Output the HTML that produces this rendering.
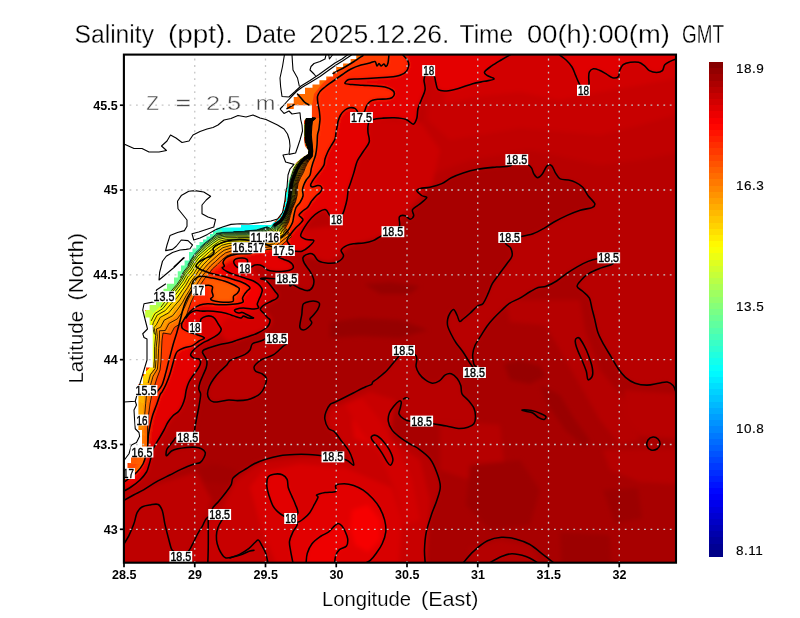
<!DOCTYPE html>
<html><head><meta charset="utf-8"><title>Salinity</title>
<style>
html,body{margin:0;padding:0;background:#fff;}
body{width:800px;height:618px;overflow:hidden;font-family:"Liberation Sans",sans-serif;}
svg{display:block}
text{font-family:"Liberation Sans",sans-serif;fill:#000}
.tk{font-size:12.5px;font-weight:bold}
.tt{font-size:25.4px;stroke:#fff;stroke-width:.3px}
.ax{font-size:21px;stroke:#fff;stroke-width:.2px}
.cb{font-size:13.5px;letter-spacing:.5px;stroke:#000;stroke-width:.15px}
.lb{font-size:12.4px;stroke:#000;stroke-width:.4px}
</style></head><body>
<svg width="800" height="618" viewBox="0 0 800 618" style="will-change:transform">
<defs><clipPath id="cp"><rect x="123.9" y="54.6" width="552.1" height="508.1"/></clipPath><filter id="bl" x="-10%" y="-10%" width="120%" height="120%"><feGaussianBlur stdDeviation="2.2"/></filter></defs>
<rect width="800" height="618" fill="#fff"/>
<g clip-path="url(#cp)">
<rect x="123.9" y="54.6" width="552.1" height="508.1" fill="#a80000"/>
<g filter="url(#bl)">
<path d="M108 40 L692 40 L692 392 L692 392 L673.1 385.6 L667.2 382 L658.8 383.2 L647 385.1 L635.1 383.2 L625.5 377.3 L618.4 369 L611.3 357.1 L604.1 345.2 L598.2 333.3 L594.7 319.1 L592 308.6 L589.4 298.1 L582.9 291.5 L577.1 286.3 L581.5 279.7 L589.4 273.2 L601.2 267.9 L613 263.5 L608.7 257.8 L597.3 258.7 L588.1 261.4 L577.6 266.6 L567.1 273.2 L556.6 281 L546.1 286.3 L538.2 287.6 L530.4 291.5 L519.9 298.1 L509.4 303.4 L501.2 310.7 L494.1 317.8 L487 326.2 L481 335.7 L475.1 345.2 L472.7 354.7 L473.9 364.2 L476.3 367.3 L474.5 372.5 L472.7 367.3 L469.1 361.8 L463.2 352.3 L456 342.8 L451.3 334.5 L447.7 326.2 L447.7 319 L450.1 313 L453.7 309.5 L457.2 315.5 L459.6 321.4 L463.2 319 L470.3 313 L477.4 306 L483.1 303.4 L488.4 292.9 L492.3 283.7 L498.9 274.5 L506.7 264 L512 256.1 L510.7 248.2 L505.4 243 L509.7 237.5 L521.2 236.4 L533 233.8 L543.5 228.6 L554 222 L567.1 215.4 L580.2 210.2 L592 207.6 L594.7 203.6 L588.1 195.7 L582.7 187.2 L575.6 182.4 L568.5 180 L560.2 178.9 L555.4 172.9 L551.8 165.8 L547.1 165.8 L542.3 174.1 L537.6 177.7 L534 174.1 L531.6 168.2 L528 164.6 L516.8 159.6 L510.7 165.8 L496.5 167 L477.4 169.3 L463.2 172.9 L451.3 177.7 L441.8 183.6 L429.9 187.2 L420.4 188.4 L416.8 190.7 L421.6 195.5 L426.7 197.8 L418.4 205 L412.5 209.7 L413.7 215.7 L410.1 219.2 L405.3 215.7 L399.4 216.9 L399.4 226.4 L392.9 231.7 L381.6 235.9 L373.2 240.6 L363.7 243 L354.2 243.7 L347.1 245.4 L341.1 250.2 L343.5 256.1 L337.6 262 L328 263.2 L318.5 260.9 L313.8 254.9 L309 253.7 L303.1 257.3 L304.3 263.2 L310.2 271.6 L313.8 279.9 L312.6 287 L307.8 290.6 L299.5 288.2 L292.4 284.6 L290 285.8 L286.8 278.8 L275.6 278.8 L270 278.5 L265 278.1 L260.6 278.8 L265 280 L268.1 282.5 L271.2 286.2 L275 291.2 L278.1 295.6 L276.2 298.8 L271.2 301.2 L265 304.4 L261.2 307.5 L260.6 310 L263.8 313.1 L267.5 317.5 L270 320 L268.8 325 L265 328.8 L258.8 332.5 L251.2 335.6 L243.8 338.1 L237.5 340 L230 342.5 L220 344.5 L210 347.5 L203.8 350 L202.5 352.5 L205 356.9 L206.9 361.2 L206.2 367.5 L203.1 375 L200 382.5 L198.8 388.8 L200.6 393.8 L200 400 L198.8 407.5 L196.9 417 L195.2 426 L194 432 L188 437.3 L176.5 437.5 L174 440 L170 445 L167 449 L166 454 L167 455.6 L171.5 451 L177.8 448.8 L186.5 447.5 L195.2 447.2 L201.5 448.8 L205.2 452.5 L204 457.5 L200.2 462.5 L192.7 464.5 L181 469.4 L169.8 475 L156.7 481.6 L143.6 489.8 L134 494.7 L108 500.4 L108 500.4Z" fill="#b80000"/>
<path d="M180.8 556.5 L188.6 551 L192.7 543.8 L197.6 534 L202.5 525.8 L207.4 517.6 L219.7 514.5 L212.3 509.4 L218.8 501.2 L225.4 493 L231.1 484.9 L232.8 478.4 L238.5 473.4 L246.6 468.5 L253.8 464 L265.7 459.2 L280 455.7 L294.2 454.5 L308.5 454.5 L321.6 455.7 L332.9 456.9 L344.2 459.2 L348.9 461.6 L353.7 465.2 L352.5 459.2 L348.9 450.9 L341.8 441.4 L334.6 431.9 L328.4 428.4 L324.8 419 L326 411.8 L330 404.6 L334.8 402.3 L341.9 398.7 L353.8 392.7 L365.7 386.8 L371.6 384.4 L372.8 382 L377.6 378.5 L387.1 370.2 L394.2 361.8 L399 355.9 L403.6 350.5 L415 354.7 L416.8 359.5 L416.1 366.6 L419.2 373.7 L425.1 379.7 L432.3 383.2 L439.4 380.9 L445.3 374.9 L451.3 373.7 L457.2 378.5 L460.8 385.6 L462 393.9 L467.9 399.9 L473.9 408.2 L475.5 416.5 L473.9 423.7 L467.9 427.2 L458.4 428.4 L446.5 426 L433 423.7 L421.7 421.1 L410.4 421.3 L403.7 418.9 L399 414.1 L400.2 408.2 L401.3 402.3 L399 401.1 L394.2 405.8 L389.4 413 L388.3 421.3 L391.8 429.6 L399 436.7 L406.1 441.5 L412 445.1 L417.5 448 L429.8 458.5 L436.8 472.5 L440.3 486.5 L436.8 500.5 L431.5 514.5 L426.3 532 L424.5 549.5 L425.2 578 L425.2 578 L180 578Z" fill="#b80000"/>
<path d="M330 410 L370 392 L395 400 L390 440 L420 460 L430 500 L425 578 L185 578 L200 530 L222 510 L235 482 L262 462 L320 456 L350 462 L340 440 L327 425Z" fill="#c80000"/>
<path d="M265.3 339 L260 341.2 L252.5 343.8 L250 350 L245 354.4 L237.5 357.5 L230 360.6 L226.2 365.6 L220 371.2 L213.8 378.8 L209.4 386.2 L207.5 393.8 L209.4 399.4 L213.8 401.9 L221.2 401.2 L228.8 400 L237.5 400.6 L247.5 399.8 L255 396.9 L260 393.8 L264 388 L266.5 378.5 L261.8 373.7 L255.8 371.3 L254 367.5 L255.8 364.2 L261.8 359.5 L273.7 354.7 L283 346.4 L286.7 344Z" fill="#bb0000"/>
<path d="M425 40 L692 40 L692 150 L640 160 L600 165 L530 150 L470 160 L430 175 L420 150Z" fill="#c00000"/>
<path d="M430 40 L692 40 L692 110 L640 125 L600 135 L520 128 L450 140 L428 120Z" fill="#c80000"/>
<path d="M440 40 L692 40 L692 75 L640 85 L600 92 L560 100 L520 92 L480 96 L445 104Z" fill="#d20000"/>
<path d="M250 268 L262 279 L266 280.5 L269.8 283 L273.5 288 L277.2 293 L278.5 295.5 L276 299.2 L271 302.4 L264.8 305.5 L260 308.6 L263.5 311.1 L268.5 315.5 L271.6 319.2 L271.6 323 L268.5 326.8 L265 329 L258.8 332.5 L243.8 338.1 L230 342.5 L221 336 L222 329 L218 323 L215 318 L205 313 L215 300 L240 290Z" fill="#d40000"/>
<path d="M360 118 L420 122 L440 150 L432 185 L405 212 L395 232 L350 246 L330 262 L305 256 L300 230 L340 225 L348 190 L355 160Z" fill="#cc0000"/>
<path d="M108 40 L510.7 40 L510.7 40 L501.2 60 L491.7 65.9 L484.6 71.8 L487 75.4 L494.1 79 L484.6 81.3 L472.7 83.7 L458.4 88.5 L446.5 90.9 L438.2 89.7 L435.8 82.5 L434.2 75.9 L428.7 70.6 L425.1 75.4 L424 80.2 L425.1 89.7 L421.6 99.2 L418 108.7 L416.8 118.2 L413.2 124.2 L406.1 119.4 L394.2 117.7 L382.3 118.2 L372.8 119.4 L369.5 121 L368 126 L368 132.5 L369.2 142 L363.3 151.5 L357.3 161 L353.8 172.9 L350.5 183 L348.3 189.5 L347.1 199 L344.7 208.5 L342.3 214.5 L336.4 219.8 L330 215.7 L325.7 209.7 L318.5 212.1 L311.4 218 L304.3 227.6 L300.7 235.9 L306.6 239.5 L313.8 240.6 L309 246.6 L301.9 251.3 L294.8 251.3 L285 254 L280 256.2 L278.8 257.5 L283.8 259.4 L288.8 261.2 L292.5 264.4 L293.1 268.1 L288.8 270.6 L281.2 271.5 L273.8 271.2 L267.5 270 L263.8 267 L260 265 L255 265 L251.2 267 L247.5 279.4 L255 282.5 L260 285.6 L262.5 288.8 L261.9 293.1 L260 297.5 L258.8 302.5 L258 308 L250 311 L240 314 L230 316 L222 322 L221.2 329.4 L218.8 333.8 L214.4 336.9 L208.8 340 L202.5 343.1 L196.2 347.5 L192.5 351.2 L190.6 355 L193.8 358.1 L198.8 358.8 L200.6 361.9 L199.4 366.2 L196.2 371.2 L192.5 376.2 L188.8 382.5 L186.2 390 L185 397.5 L182.5 405 L178.8 411.2 L172.8 416 L167.8 422.5 L164 430 L159 438.8 L155.2 445 L152.8 450 L151 457.5 L149 465 L146.5 472 L140 480 L131 487 L108 491 L108 491Z" fill="#e40000"/>
<path d="M559 40 L559 40 L566.1 60 L572 67 L575.6 75.4 L579.2 83.7 L583.5 90.3 L588.7 85 L588.7 77.8 L589.4 71.8 L593.4 68.7 L599.4 70.2 L606.5 74.2 L612.5 77.8 L618.4 76.6 L619.6 70.6 L623.2 64.7 L630.3 62.3 L638.6 62.3 L644.6 65.9 L649.3 70.6 L656.5 72.5 L662.4 70.6 L664.8 64.7 L670.7 61.1 L692 59 L692 40Z" fill="#e00000"/>
<path d="M250 487 L262 472 L300 464 L345 468 L392 488 L402 520 L398 578 L282 578 L262 530Z" fill="#d80000"/>
<path d="M290.7 518.5 L297.8 513.2 L295.4 504.4 L291.8 496.1 L288.3 487.8 L287.1 479.4 L282.3 474.7 L274 474.2 L268 477.1 L266.9 486.6 L269.2 496.1 L272.8 505.6 L277.6 511.6 L284.2 516.3Z" fill="#e20000"/>
<path d="M293 578 L290.6 550.8 L289.5 541.3 L293 531.8 L297.3 523.9 L290.7 518.5 L297.3 522.3 L303.7 518.7 L309.7 512.7 L314.4 504.4 L318 497.3 L316.8 494.9 L325.1 492.5 L335.8 491.3 L335.8 485.4 L344.2 483.7 L353.7 485.4 L363.2 490.2 L372.7 498.5 L379.8 508 L384.6 519.9 L385.8 531.8 L382.2 543.7 L376.3 553.2 L370.3 560.3 L365.6 578 L293 578Z" fill="#e20000"/>
<path d="M306.1 578 L307.3 553.2 L312 543.7 L320.4 536.5 L328.7 531.8 L334.6 525.8 L338.2 523.5 L341.8 525.8 L345.3 531.8 L347.7 538.9 L346.5 546 L339.4 549.6 L335.8 555.6 L334.6 578 L306 578Z" fill="#ee0000"/>
<path d="M352 510 L368 505 L380 520 L380 540 L368 552 L355 545 L350 528Z" fill="#f60000"/>
<path d="M352 420 L366 414 L378 424 L380 436 L368 444 L354 438Z" fill="#dc0000"/>
<path d="M200 316 L214 318 L219 328 L212 336 L200 338Z" fill="#d80000"/>
<path d="M252 252.7 L250 253.5 L242.5 253.8 L235 254.4 L228.8 256.2 L225 258.8 L223 262.5 L224.4 266.2 L222.2 268 L227.2 271.8 L233.5 274.2 L241 276.8 L248.5 279.2 L254.8 281.8 L259.8 285.5 L262.2 289.9 L261 294.9 L259.1 299.2 L257.2 304.2 L258.5 308 L252 309 L243.5 308 L236 309.2 L234.8 311.1 L238.5 313 L242.2 312.4 L246 314.2 L251 316.8 L253.5 318 L248.5 318 L243.5 316.1 L241 318 L236 316.8 L231 314.9 L224.8 313 L217.2 311.8 L200 300 L200 272Z" fill="#f40000"/>
<path d="M108 40 L402.5 40 L402.5 40 L407.5 60.2 L408.8 65.2 L406.2 71.5 L400 75.2 L390 77.1 L378.8 77.8 L367.5 78.4 L357.5 79 L348.8 79.6 L345 83.4 L352.5 84.6 L362.5 85.2 L375 85.9 L385 87.1 L392.5 90.2 L394.4 94 L391.9 97.8 L386.2 99 L378.8 99.2 L372.5 100.2 L368.8 102.8 L366.2 106.5 L365 110.2 L363.8 112.8 L357.5 111.5 L355 108.4 L350 107.8 L345 110 L340.6 115 L338 121.5 L337.5 125 L336 132.5 L335 139 L331 146 L327.5 152.5 L325 159 L324 165 L320 171 L316 176 L312.5 181 L310.6 185 L312.5 187 L317.5 185.6 L320.6 186 L322 189 L320 192.5 L316 196 L312.5 200 L311 202 L307.5 207.5 L302.5 211.2 L299 215 L301.2 217.5 L303 220 L300 223.8 L295 228.8 L290 235 L287 240 L288.8 243.8 L291 246.5 L275 248 L262 243 L250 240.5 L240 239.5 L232.5 240 L225 241.5 L219 244 L215 246 L213 249 L214 252.5 L211 256 L205 258.5 L199 262 L196 266 L200 269.4 L200 269.4 L205 271.2 L212.5 273.8 L220 275.6 L227.5 277.5 L235 280 L242.5 282.5 L248.1 285.6 L250 288.1 L247.5 290.6 L244.4 294.4 L242.5 298.1 L243.1 301.9 L237.5 303.8 L230 304.4 L222.5 304.8 L215 304.4 L207.5 303.8 L200 305 L193 309 L187 315 L183 321 L181.5 325 L182.8 328.8 L189 332 L197.8 335 L204.4 338 L199 341 L192.5 345.6 L183.8 348 L177.5 351.2 L175 356.2 L172.5 365 L170 373.8 L166.2 383.8 L162.5 391.2 L160 395 L156.5 405 L152.8 415 L150.2 425 L148.4 435 L147.8 445 L146 455 L143 464 L137 472 L130 478 L108 482 L108 482Z" fill="#ff2600"/>
<path d="M108 40 L389 40 L389 40 L388 63 L386 66.5 L384 64 L381 66 L379 63.5 L377 66 L375 61.5 L370 63 L361 65 L351 69 L342.5 74.5 L332.5 81.5 L325 87 L320 91.5 L317.5 96.5 L318 104 L319.4 111.5 L320 119 L319.4 125 L318.8 130 L317.5 135 L317 145 L315.6 155 L313 162.5 L311.2 168.8 L310 175 L306.2 180 L303.8 185 L302.5 190 L303 196 L300 202.5 L296 207.5 L294 215 L292.5 222.5 L289 229 L285 234 L281 237.5 L275 248 L262 250 L250 253 L240 256 L228 260 L220 266 L212 271 L205 275 L199 278 L195 281 L192 284 L192 290 L189 295 L185.2 302.5 L182.8 310 L180.2 320 L177 332 L173 345 L169 360 L166 372 L162 385 L157 392 L152 410 L149 430 L147 447 L140 462 L131 470 L108 475Z" fill="#ff3e00"/>
<path d="M204.4 285.6 L208.8 285.2 L212.5 286.9 L211.9 291.2 L213.1 296.2 L210.6 298.8 L212.5 300.6 L220 301.9 L227.5 302.2 L233.1 301.2 L233.5 296.2 L237.5 293.1 L239.4 288.8 L236.2 286.2 L231.2 283.8 L225 281.2 L218.8 279.4 L212.5 278.1 L206.2 276.9 L200 276.2Z" fill="#ff5c00"/>
<path d="M330 322 L360 318 L400 320 L428 330 L400 338 L360 336 L330 338Z" fill="#960000"/>
<path d="M504 364 L520 360 L540 366 L546 376 L530 384 L510 380Z" fill="#960000"/>
<path d="M364 284 L390 282 L420 286 L410 294 L380 294Z" fill="#960000"/>
<path d="M540 385 L560 395 L575 420 L590 440 L585 448 L565 430 L548 405Z" fill="#9a0000"/>
<path d="M197 468 L215 464 L238 470 L230 484 L205 482Z" fill="#a20000"/>
<path d="M505 300 L580 300 L585 330 L600 370 L625 400 L640 440 L620 445 L600 420 L580 385 L560 350 L545 325 L510 322Z" fill="#b60000"/>
<path d="M624 390 L692 395 L692 440 L640 436 L626 415Z" fill="#b80000"/>
<path d="M603 450 L692 448 L692 485 L640 482 L610 470Z" fill="#b60000"/>
<path d="M440 420 L500 425 L505 470 L470 480 L440 470Z" fill="#b60000"/>
<path d="M470 465 L520 460 L540 490 L530 525 L490 530 L466 505Z" fill="#9c0000"/>
<path d="M603 490 L638 488 L642 518 L615 524Z" fill="#9c0000"/>
<path d="M560 532 L610 535 L612 578 L562 578Z" fill="#9c0000"/>
<path d="M470 548 L500 540 L530 546 L548 578 L466 578Z" fill="#b40000"/>
<path d="M108 503 L160 483 L196 472 L212 500 L205 520 L190 548 L180 578 L108 578Z" fill="#be0000"/>
<path d="M345 405 L362 398 L380 420 L398 450 L412 480 L420 520 L405 525 L395 490 L380 455 L360 430Z" fill="#d20000"/>
</g>
<path d="M286 110 L286 100 L352 52 L363 55.5 L354 61.5 L345 67 L337.5 71 L333 73.5 L322 84 L314 94 L312 105.3 L294 105.3 L294 110Z" fill="#ff6a00"/>
<g shape-rendering="crispEdges">
<path d="M311.9 118.0 L313.0 118.0 L307.4 119.1 L305.4 118.2Z" fill="#f5ff0a"/><path d="M312.9 118.0 L313.9 118.0 L309.1 119.8 L307.1 119.0Z" fill="#ffda00"/><path d="M313.8 118.0 L314.9 118.0 L310.9 120.5 L308.8 119.7Z" fill="#ffaa00"/><path d="M314.7 118.0 L315.8 118.0 L312.6 121.2 L310.6 120.4Z" fill="#ff7b00"/><path d="M315.7 118.0 L316.8 118.0 L314.3 121.9 L312.3 121.1Z" fill="#ff6200"/><path d="M316.6 118.0 L317.7 118.0 L316.1 122.6 L314.0 121.8Z" fill="#ff6000"/><path d="M317.6 118.0 L318.6 118.0 L317.8 123.3 L315.8 122.5Z" fill="#ff5d00"/><path d="M318.5 118.0 L319.6 118.0 L319.5 124.1 L317.5 123.2Z" fill="#ff5b00"/><path d="M305.4 118.2 L307.4 119.1 L306.5 125.4 L304.4 125.0Z" fill="#f5ff0a"/><path d="M307.1 119.0 L309.1 119.8 L308.3 125.8 L306.2 125.3Z" fill="#ffda00"/><path d="M308.8 119.7 L310.9 120.5 L310.1 126.2 L308.0 125.7Z" fill="#ffaa00"/><path d="M310.6 120.4 L312.6 121.2 L311.9 126.5 L309.8 126.1Z" fill="#ff7b00"/><path d="M312.3 121.1 L314.3 121.9 L313.7 126.9 L311.6 126.5Z" fill="#ff6200"/><path d="M314.0 121.8 L316.1 122.6 L315.5 127.3 L313.4 126.8Z" fill="#ff6000"/><path d="M315.8 122.5 L317.8 123.3 L317.3 127.7 L315.2 127.2Z" fill="#ff5d00"/><path d="M317.5 123.2 L319.5 124.1 L319.1 128.0 L317.0 127.6Z" fill="#ff5b00"/><path d="M304.4 125.0 L306.5 125.4 L306.3 135.0 L304.4 135.0Z" fill="#f5ff0a"/><path d="M306.2 125.3 L308.3 125.8 L307.9 135.0 L306.0 135.0Z" fill="#ffdb00"/><path d="M308.0 125.7 L310.1 126.2 L309.5 135.0 L307.6 135.0Z" fill="#ffad00"/><path d="M309.8 126.1 L311.9 126.5 L311.1 135.0 L309.2 135.0Z" fill="#ff7e00"/><path d="M311.6 126.5 L313.7 126.9 L312.8 135.0 L310.9 135.0Z" fill="#ff6200"/><path d="M313.4 126.8 L315.5 127.3 L314.4 135.0 L312.5 135.0Z" fill="#ff6000"/><path d="M315.2 127.2 L317.3 127.7 L316.0 135.0 L314.1 135.0Z" fill="#ff5e00"/><path d="M317.0 127.6 L319.1 128.0 L317.6 135.0 L315.7 135.0Z" fill="#ff5b00"/><path d="M304.4 135.0 L306.3 135.0 L306.6 143.3 L304.9 143.0Z" fill="#f3ff0c"/><path d="M306.0 135.0 L307.9 135.0 L308.1 143.5 L306.4 143.2Z" fill="#ffe100"/><path d="M307.6 135.0 L309.5 135.0 L309.6 143.8 L307.9 143.5Z" fill="#ffb700"/><path d="M309.2 135.0 L311.1 135.0 L311.1 144.0 L309.4 143.7Z" fill="#ff8d00"/><path d="M310.9 135.0 L312.8 135.0 L312.6 144.3 L310.9 144.0Z" fill="#ff6300"/><path d="M312.5 135.0 L314.4 135.0 L314.1 144.5 L312.4 144.2Z" fill="#ff6100"/><path d="M314.1 135.0 L316.0 135.0 L315.6 144.8 L313.9 144.5Z" fill="#ff5e00"/><path d="M315.7 135.0 L317.6 135.0 L317.1 145.0 L315.4 144.7Z" fill="#ff5b00"/><path d="M304.9 143.0 L306.6 143.3 L309.1 150.3 L307.9 150.0Z" fill="#f1ff0e"/><path d="M306.4 143.2 L308.1 143.5 L310.1 150.5 L308.9 150.2Z" fill="#ffe500"/><path d="M307.9 143.5 L309.6 143.8 L311.1 150.8 L309.9 150.5Z" fill="#ffbe00"/><path d="M309.4 143.7 L311.1 144.0 L312.1 151.0 L310.9 150.7Z" fill="#ff9700"/><path d="M310.9 144.0 L312.6 144.3 L313.1 151.3 L311.9 151.0Z" fill="#ff6f00"/><path d="M312.4 144.2 L314.1 144.5 L314.1 151.5 L312.9 151.2Z" fill="#ff6100"/><path d="M313.9 144.5 L315.6 144.8 L315.1 151.8 L313.9 151.5Z" fill="#ff5e00"/><path d="M315.4 144.7 L317.1 145.0 L316.1 152.0 L314.9 151.7Z" fill="#ff5b00"/><path d="M307.9 150.0 L309.1 150.3 L308.9 154.5 L307.9 154.0Z" fill="#f1ff0e"/><path d="M308.9 150.2 L310.1 150.5 L309.8 155.0 L308.8 154.5Z" fill="#ffe500"/><path d="M309.9 150.5 L311.1 150.8 L310.7 155.5 L309.7 155.0Z" fill="#ffbe00"/><path d="M310.9 150.7 L312.1 151.0 L311.6 156.0 L310.6 155.5Z" fill="#ff9700"/><path d="M311.9 151.0 L313.1 151.3 L312.4 156.5 L311.4 156.0Z" fill="#ff6f00"/><path d="M312.9 151.2 L314.1 151.5 L313.3 157.0 L312.3 156.5Z" fill="#ff6100"/><path d="M313.9 151.5 L315.1 151.8 L314.2 157.5 L313.2 157.0Z" fill="#ff5e00"/><path d="M314.9 151.7 L316.1 152.0 L315.1 158.0 L314.1 157.5Z" fill="#ff5b00"/><path d="M307.9 154.0 L308.9 154.5 L304.4 157.7 L302.9 156.9Z" fill="#f1ff0e"/><path d="M308.8 154.5 L309.8 155.0 L305.7 158.3 L304.2 157.6Z" fill="#ffe500"/><path d="M309.7 155.0 L310.7 155.5 L307.0 158.9 L305.5 158.2Z" fill="#ffbe00"/><path d="M310.6 155.5 L311.6 156.0 L308.4 159.6 L306.8 158.8Z" fill="#ff9700"/><path d="M311.4 156.0 L312.4 156.5 L309.7 160.2 L308.1 159.4Z" fill="#ff6f00"/><path d="M312.3 156.5 L313.3 157.0 L311.0 160.8 L309.5 160.1Z" fill="#ff6100"/><path d="M313.2 157.0 L314.2 157.5 L312.3 161.4 L310.8 160.7Z" fill="#ff5e00"/><path d="M314.1 157.5 L315.1 158.0 L313.6 162.1 L312.1 161.3Z" fill="#ff5b00"/><path d="M302.9 156.9 L304.4 157.7 L300.8 160.8 L298.9 159.9Z" fill="#f1ff0e"/><path d="M304.2 157.6 L305.7 158.3 L302.4 161.6 L300.5 160.7Z" fill="#ffe600"/><path d="M305.5 158.2 L307.0 158.9 L304.0 162.3 L302.1 161.4Z" fill="#ffc000"/><path d="M306.8 158.8 L308.4 159.6 L305.6 163.1 L303.7 162.2Z" fill="#ff9900"/><path d="M308.1 159.4 L309.7 160.2 L307.3 163.8 L305.4 162.9Z" fill="#ff7200"/><path d="M309.5 160.1 L311.0 160.8 L308.9 164.6 L307.0 163.7Z" fill="#ff6100"/><path d="M310.8 160.7 L312.3 161.4 L310.5 165.3 L308.6 164.4Z" fill="#ff5e00"/><path d="M312.1 161.3 L313.6 162.1 L312.1 166.1 L310.2 165.2Z" fill="#ff5b00"/><path d="M298.9 159.9 L300.8 160.8 L298.0 164.4 L295.9 163.4Z" fill="#f1ff0e"/><path d="M300.5 160.7 L302.4 161.6 L299.9 165.2 L297.7 164.2Z" fill="#ffe700"/><path d="M302.1 161.4 L304.0 162.3 L301.8 166.0 L299.6 165.1Z" fill="#ffc100"/><path d="M303.7 162.2 L305.6 163.1 L303.6 166.8 L301.5 165.9Z" fill="#ff9b00"/><path d="M305.4 162.9 L307.3 163.8 L305.5 167.6 L303.4 166.7Z" fill="#ff7500"/><path d="M307.0 163.7 L308.9 164.6 L307.4 168.4 L305.2 167.5Z" fill="#ff6200"/><path d="M308.6 164.4 L310.5 165.3 L309.3 169.3 L307.1 168.3Z" fill="#ff5f00"/><path d="M310.2 165.2 L312.1 166.1 L311.1 170.1 L309.0 169.1Z" fill="#ff5b00"/><path d="M295.9 163.4 L298.0 164.4 L295.3 168.9 L292.8 167.9Z" fill="#dbff24"/><path d="M297.7 164.2 L299.9 165.2 L297.4 169.8 L295.0 168.8Z" fill="#fff800"/><path d="M299.6 165.1 L301.8 166.0 L299.5 170.7 L297.1 169.7Z" fill="#ffcd00"/><path d="M301.5 165.9 L303.6 166.8 L301.7 171.6 L299.2 170.6Z" fill="#ffa200"/><path d="M303.4 166.7 L305.5 167.6 L303.8 172.4 L301.3 171.4Z" fill="#ff7700"/><path d="M305.2 167.5 L307.4 168.4 L305.9 173.3 L303.5 172.3Z" fill="#ff6200"/><path d="M307.1 168.3 L309.3 169.3 L308.0 174.2 L305.6 173.2Z" fill="#ff5f00"/><path d="M309.0 169.1 L311.1 170.1 L310.2 175.1 L307.7 174.1Z" fill="#ff5b00"/><path d="M292.8 167.9 L295.3 168.9 L293.1 174.8 L290.8 173.9Z" fill="#b1ff4e"/><path d="M295.0 168.8 L297.4 169.8 L295.0 175.6 L292.8 174.7Z" fill="#e5ff1a"/><path d="M297.1 169.7 L299.5 170.7 L296.9 176.3 L294.7 175.4Z" fill="#ffe400"/><path d="M299.2 170.6 L301.7 171.6 L298.8 177.1 L296.6 176.2Z" fill="#ffb000"/><path d="M301.3 171.4 L303.8 172.4 L300.7 177.8 L298.5 176.9Z" fill="#ff7b00"/><path d="M303.5 172.3 L305.9 173.3 L302.6 178.6 L300.4 177.7Z" fill="#ff6200"/><path d="M305.6 173.2 L308.0 174.2 L304.5 179.3 L302.3 178.4Z" fill="#ff5f00"/><path d="M307.7 174.1 L310.2 175.1 L306.4 180.1 L304.2 179.2Z" fill="#ff5b00"/><path d="M290.8 173.9 L293.1 174.8 L291.0 180.7 L288.9 179.9Z" fill="#80ff7f"/><path d="M292.8 174.7 L295.0 175.6 L292.8 181.3 L290.7 180.6Z" fill="#bfff40"/><path d="M294.7 175.4 L296.9 176.3 L294.7 181.9 L292.5 181.2Z" fill="#feff01"/><path d="M296.6 176.2 L298.8 177.1 L296.5 182.6 L294.4 181.8Z" fill="#ffc000"/><path d="M298.5 176.9 L300.7 177.8 L298.4 183.2 L296.2 182.4Z" fill="#ff8100"/><path d="M300.4 177.7 L302.6 178.6 L300.2 183.8 L298.1 183.1Z" fill="#ff6200"/><path d="M302.3 178.4 L304.5 179.3 L302.1 184.4 L299.9 183.7Z" fill="#ff5f00"/><path d="M304.2 179.2 L306.4 180.1 L303.9 185.1 L301.8 184.3Z" fill="#ff5b00"/><path d="M288.9 179.9 L291.0 180.7 L289.5 187.4 L287.4 187.0Z" fill="#43ffbc"/><path d="M290.7 180.6 L292.8 181.3 L291.4 187.8 L289.2 187.3Z" fill="#8eff71"/><path d="M292.5 181.2 L294.7 181.9 L293.3 188.2 L291.1 187.7Z" fill="#d9ff26"/><path d="M294.4 181.8 L296.5 182.6 L295.1 188.5 L293.0 188.1Z" fill="#ffda00"/><path d="M296.2 182.4 L298.4 183.2 L297.0 188.9 L294.9 188.5Z" fill="#ff8f00"/><path d="M298.1 183.1 L300.2 183.8 L298.9 189.3 L296.7 188.8Z" fill="#ff6200"/><path d="M299.9 183.7 L302.1 184.4 L300.8 189.7 L298.6 189.2Z" fill="#ff5f00"/><path d="M301.8 184.3 L303.9 185.1 L302.6 190.0 L300.5 189.6Z" fill="#ff5c00"/><path d="M287.4 187.0 L289.5 187.4 L288.7 193.4 L286.3 193.0Z" fill="#20ffdf"/><path d="M289.2 187.3 L291.4 187.8 L290.8 193.8 L288.4 193.3Z" fill="#6dff92"/><path d="M291.1 187.7 L293.3 188.2 L292.9 194.2 L290.5 193.7Z" fill="#bfff40"/><path d="M293.0 188.1 L295.1 188.5 L294.9 194.5 L292.5 194.1Z" fill="#ffee00"/><path d="M294.9 188.5 L297.0 188.9 L297.0 194.9 L294.6 194.5Z" fill="#ff9c00"/><path d="M296.7 188.8 L298.9 189.3 L299.0 195.3 L296.6 194.8Z" fill="#ff6200"/><path d="M298.6 189.2 L300.8 189.7 L301.1 195.7 L298.7 195.2Z" fill="#ff5f00"/><path d="M300.5 189.6 L302.6 190.0 L303.2 196.0 L300.8 195.6Z" fill="#ff5c00"/><path d="M286.3 193.0 L288.7 193.4 L287.9 200.3 L285.9 200.0Z" fill="#17ffe8"/><path d="M288.4 193.3 L290.8 193.8 L289.6 200.7 L287.6 200.3Z" fill="#59ffa6"/><path d="M290.5 193.7 L292.9 194.2 L291.4 201.0 L289.4 200.6Z" fill="#adff52"/><path d="M292.5 194.1 L294.9 194.5 L293.1 201.3 L291.1 200.9Z" fill="#fffd00"/><path d="M294.6 194.5 L297.0 194.9 L294.9 201.6 L292.9 201.2Z" fill="#ffa800"/><path d="M296.6 194.8 L299.0 195.3 L296.6 201.9 L294.6 201.5Z" fill="#ff6300"/><path d="M298.7 195.2 L301.1 195.7 L298.4 202.2 L296.4 201.8Z" fill="#ff5f00"/><path d="M300.8 195.6 L303.2 196.0 L300.1 202.5 L298.1 202.2Z" fill="#ff5c00"/><path d="M285.9 200.0 L287.9 200.3 L285.6 209.7 L283.9 210.0Z" fill="#0efff1"/><path d="M287.6 200.3 L289.6 200.7 L287.1 209.5 L285.4 209.8Z" fill="#48ffb7"/><path d="M289.4 200.6 L291.4 201.0 L288.6 209.2 L286.9 209.5Z" fill="#9dff62"/><path d="M291.1 200.9 L293.1 201.3 L290.1 209.0 L288.4 209.3Z" fill="#f1ff0e"/><path d="M292.9 201.2 L294.9 201.6 L291.6 208.7 L289.9 209.0Z" fill="#ffb900"/><path d="M294.6 201.5 L296.6 201.9 L293.1 208.5 L291.4 208.8Z" fill="#ff6500"/><path d="M296.4 201.8 L298.4 202.2 L294.6 208.2 L292.9 208.5Z" fill="#ff6000"/><path d="M298.1 202.2 L300.1 202.5 L296.1 208.0 L294.4 208.3Z" fill="#ff5c00"/><path d="M283.9 210.0 L285.6 209.7 L282.8 216.3 L280.9 216.5Z" fill="#0efff1"/><path d="M285.4 209.8 L287.1 209.5 L284.4 216.1 L282.5 216.3Z" fill="#47ffb8"/><path d="M286.9 209.5 L288.6 209.2 L286.0 215.9 L284.1 216.1Z" fill="#98ff67"/><path d="M288.4 209.3 L290.1 209.0 L287.6 215.7 L285.7 216.0Z" fill="#e9ff16"/><path d="M289.9 209.0 L291.6 208.7 L289.3 215.5 L287.4 215.8Z" fill="#ffc300"/><path d="M291.4 208.8 L293.1 208.5 L290.9 215.4 L289.0 215.6Z" fill="#ff7200"/><path d="M292.9 208.5 L294.6 208.2 L292.5 215.2 L290.6 215.4Z" fill="#ff6000"/><path d="M294.4 208.3 L296.1 208.0 L294.1 215.0 L292.2 215.2Z" fill="#ff5c00"/><path d="M280.9 216.5 L282.8 216.3 L279.1 221.2 L276.8 221.0Z" fill="#09fff6"/><path d="M282.5 216.3 L284.4 216.1 L281.0 221.4 L278.8 221.2Z" fill="#3bffc4"/><path d="M284.1 216.1 L286.0 215.9 L283.0 221.6 L280.7 221.4Z" fill="#8bff74"/><path d="M285.7 216.0 L287.6 215.7 L284.9 221.8 L282.7 221.5Z" fill="#dbff24"/><path d="M287.4 215.8 L289.3 215.5 L286.8 222.0 L284.6 221.7Z" fill="#ffd200"/><path d="M289.0 215.6 L290.9 215.4 L288.8 222.1 L286.5 221.9Z" fill="#ff8200"/><path d="M290.6 215.4 L292.5 215.2 L290.7 222.3 L288.5 222.1Z" fill="#ff6100"/><path d="M292.2 215.2 L294.1 215.0 L292.7 222.5 L290.4 222.3Z" fill="#ff5c00"/><path d="M276.8 221.0 L279.1 221.2 L273.4 224.2 L270.8 223.4Z" fill="#04fffb"/><path d="M278.8 221.2 L281.0 221.4 L275.7 224.9 L273.1 224.1Z" fill="#2bffd4"/><path d="M280.7 221.4 L283.0 221.6 L277.9 225.6 L275.3 224.8Z" fill="#79ff86"/><path d="M282.7 221.5 L284.9 221.8 L280.2 226.3 L277.6 225.5Z" fill="#c8ff37"/><path d="M284.6 221.7 L286.8 222.0 L282.4 227.0 L279.8 226.2Z" fill="#ffe800"/><path d="M286.5 221.9 L288.8 222.1 L284.7 227.7 L282.1 226.9Z" fill="#ff9a00"/><path d="M288.5 222.1 L290.7 222.3 L286.9 228.4 L284.3 227.6Z" fill="#ff6200"/><path d="M290.4 222.3 L292.7 222.5 L289.2 229.1 L286.6 228.3Z" fill="#ff5d00"/><path d="M270.8 223.4 L273.4 224.2 L266.0 226.1 L261.7 224.4Z" fill="#04fffb"/><path d="M273.1 224.1 L275.7 224.9 L269.7 227.7 L265.4 225.9Z" fill="#1cffe3"/><path d="M275.3 224.8 L277.9 225.6 L273.3 229.2 L269.1 227.4Z" fill="#5fffa0"/><path d="M277.6 225.5 L280.2 226.3 L277.0 230.7 L272.7 228.9Z" fill="#a2ff5d"/><path d="M279.8 226.2 L282.4 227.0 L280.7 232.2 L276.4 230.5Z" fill="#e5ff1a"/><path d="M282.1 226.9 L284.7 227.7 L284.4 233.7 L280.1 232.0Z" fill="#ffd600"/><path d="M284.3 227.6 L286.9 228.4 L288.1 235.3 L283.8 233.5Z" fill="#ff9200"/><path d="M286.6 228.3 L289.2 229.1 L291.7 236.8 L287.5 235.0Z" fill="#ff6000"/><path d="M261.7 224.4 L266.0 226.1 L253.8 228.1 L249.7 224.8Z" fill="#04fffb"/><path d="M265.4 225.9 L269.7 227.7 L257.3 231.0 L253.2 227.6Z" fill="#16ffe9"/><path d="M269.1 227.4 L273.3 229.2 L260.8 233.9 L256.8 230.5Z" fill="#8dff72"/><path d="M272.7 228.9 L277.0 230.7 L264.4 236.8 L260.3 233.4Z" fill="#d1ff2e"/><path d="M276.4 230.5 L280.7 232.2 L267.9 239.6 L263.8 236.3Z" fill="#fff700"/><path d="M280.1 232.0 L284.4 233.7 L271.4 242.5 L267.3 239.2Z" fill="#ffc800"/><path d="M283.8 233.5 L288.1 235.3 L274.9 245.4 L270.8 242.0Z" fill="#ff9d00"/><path d="M287.5 235.0 L291.7 236.8 L278.4 248.3 L274.4 244.9Z" fill="#ff7600"/><path d="M249.7 224.8 L253.8 228.1 L242.8 228.9 L239.8 225.3Z" fill="#04fffb"/><path d="M253.2 227.6 L257.3 231.0 L245.3 232.0 L242.4 228.4Z" fill="#04fffb"/><path d="M256.8 230.5 L260.8 233.9 L247.9 235.1 L244.9 231.5Z" fill="#7eff81"/><path d="M260.3 233.4 L264.4 236.8 L250.4 238.2 L247.5 234.6Z" fill="#c7ff38"/><path d="M263.8 236.3 L267.9 239.6 L253.0 241.3 L250.0 237.7Z" fill="#fffd00"/><path d="M267.3 239.2 L271.4 242.5 L255.6 244.5 L252.6 240.9Z" fill="#ffcc00"/><path d="M270.8 242.0 L274.9 245.4 L258.1 247.6 L255.2 244.0Z" fill="#ff9f00"/><path d="M274.4 244.9 L278.4 248.3 L260.7 250.7 L257.7 247.1Z" fill="#ff7700"/><path d="M239.8 225.3 L242.8 228.9 L232.2 229.9 L229.8 226.3Z" fill="#09fff6"/><path d="M242.4 228.4 L245.3 232.0 L234.3 233.0 L231.9 229.4Z" fill="#09fff6"/><path d="M244.9 231.5 L247.9 235.1 L236.4 236.1 L234.0 232.5Z" fill="#86ff79"/><path d="M247.5 234.6 L250.4 238.2 L238.5 239.2 L236.1 235.6Z" fill="#ccff33"/><path d="M250.0 237.7 L253.0 241.3 L240.6 242.3 L238.2 238.7Z" fill="#fffa00"/><path d="M252.6 240.9 L255.6 244.5 L242.6 245.5 L240.2 241.9Z" fill="#ffc900"/><path d="M255.2 244.0 L258.1 247.6 L244.7 248.6 L242.3 245.0Z" fill="#ff9e00"/><path d="M257.7 247.1 L260.7 250.7 L246.8 251.7 L244.4 248.1Z" fill="#ff7600"/><path d="M229.8 226.3 L232.2 229.9 L221.9 230.5 L219.9 226.7Z" fill="#17ffe8"/><path d="M231.9 229.4 L234.3 233.0 L223.7 233.8 L221.6 230.0Z" fill="#17ffe8"/><path d="M234.0 232.5 L236.4 236.1 L225.4 237.1 L223.4 233.3Z" fill="#94ff6b"/><path d="M236.1 235.6 L238.5 239.2 L227.2 240.4 L225.1 236.6Z" fill="#d6ff29"/><path d="M238.2 238.7 L240.6 242.3 L228.9 243.7 L226.9 239.9Z" fill="#fff300"/><path d="M240.2 241.9 L242.6 245.5 L230.7 246.9 L228.7 243.1Z" fill="#ffc500"/><path d="M242.3 245.0 L244.7 248.6 L232.5 250.2 L230.4 246.4Z" fill="#ff9b00"/><path d="M244.4 248.1 L246.8 251.7 L234.2 253.5 L232.2 249.7Z" fill="#ff7500"/><path d="M219.9 226.7 L221.9 230.5 L215.7 232.6 L213.9 228.7Z" fill="#2affd5"/><path d="M221.6 230.0 L223.7 233.8 L217.3 236.0 L215.5 232.1Z" fill="#48ffb7"/><path d="M223.4 233.3 L225.4 237.1 L218.9 239.3 L217.1 235.5Z" fill="#aaff55"/><path d="M225.1 236.6 L227.2 240.4 L220.5 242.7 L218.7 238.8Z" fill="#e6ff19"/><path d="M226.9 239.9 L228.9 243.7 L222.1 246.1 L220.3 242.2Z" fill="#ffe800"/><path d="M228.7 243.1 L230.7 246.9 L223.7 249.4 L221.9 245.5Z" fill="#ffbe00"/><path d="M230.4 246.4 L232.5 250.2 L225.3 252.8 L223.5 248.9Z" fill="#ff9700"/><path d="M232.2 249.7 L234.2 253.5 L226.9 256.1 L225.1 252.3Z" fill="#ff7400"/><path d="M213.9 228.7 L215.7 232.6 L209.9 237.0 L207.9 233.2Z" fill="#38ffc7"/><path d="M215.5 232.1 L217.3 236.0 L211.7 240.3 L209.6 236.5Z" fill="#5affa5"/><path d="M217.1 235.5 L218.9 239.3 L213.4 243.6 L211.4 239.8Z" fill="#b5ff4a"/><path d="M218.7 238.8 L220.5 242.7 L215.2 246.9 L213.1 243.1Z" fill="#eeff11"/><path d="M220.3 242.2 L222.1 246.1 L216.9 250.2 L214.9 246.4Z" fill="#ffe200"/><path d="M221.9 245.5 L223.7 249.4 L218.7 253.4 L216.7 249.6Z" fill="#ffba00"/><path d="M223.5 248.9 L225.3 252.8 L220.5 256.7 L218.4 252.9Z" fill="#ff9500"/><path d="M225.1 252.3 L226.9 256.1 L222.2 260.0 L220.2 256.2Z" fill="#ff7300"/><path d="M207.9 233.2 L209.9 237.0 L204.1 241.1 L201.8 237.2Z" fill="#42ffbd"/><path d="M209.6 236.5 L211.7 240.3 L206.0 244.5 L203.8 240.6Z" fill="#42ffbd"/><path d="M211.4 239.8 L213.4 243.6 L207.9 247.8 L205.7 244.0Z" fill="#b4ff4b"/><path d="M213.1 243.1 L215.2 246.9 L209.8 251.2 L207.6 247.3Z" fill="#eeff11"/><path d="M214.9 246.4 L216.9 250.2 L211.8 254.6 L209.5 250.7Z" fill="#ffe100"/><path d="M216.7 249.6 L218.7 253.4 L213.7 257.9 L211.4 254.0Z" fill="#ffb900"/><path d="M218.4 252.9 L220.5 256.7 L215.6 261.3 L213.4 257.4Z" fill="#ff9500"/><path d="M220.2 256.2 L222.2 260.0 L217.5 264.6 L215.3 260.8Z" fill="#ff7300"/><path d="M201.8 237.2 L204.1 241.1 L199.1 245.6 L196.8 241.7Z" fill="#4bffb4"/><path d="M203.8 240.6 L206.0 244.5 L201.0 249.0 L198.8 245.1Z" fill="#4bffb4"/><path d="M205.7 244.0 L207.9 247.8 L202.9 252.3 L200.7 248.5Z" fill="#bbff44"/><path d="M207.6 247.3 L209.8 251.2 L204.8 255.7 L202.6 251.8Z" fill="#f3ff0c"/><path d="M209.5 250.7 L211.8 254.6 L206.8 259.1 L204.5 255.2Z" fill="#ffde00"/><path d="M211.4 254.0 L213.7 257.9 L208.7 262.4 L206.4 258.5Z" fill="#ffb700"/><path d="M213.4 257.4 L215.6 261.3 L210.6 265.8 L208.4 261.9Z" fill="#ff9300"/><path d="M215.3 260.8 L217.5 264.6 L212.5 269.1 L210.3 265.3Z" fill="#ff7300"/><path d="M196.8 241.7 L199.1 245.6 L194.2 250.6 L191.8 246.7Z" fill="#50ffaf"/><path d="M198.8 245.1 L201.0 249.0 L196.3 254.0 L193.9 250.1Z" fill="#50ffaf"/><path d="M200.7 248.5 L202.9 252.3 L198.4 257.3 L196.0 253.5Z" fill="#bbff44"/><path d="M202.6 251.8 L204.8 255.7 L200.5 260.7 L198.1 256.8Z" fill="#f3ff0c"/><path d="M204.5 255.2 L206.8 259.1 L202.6 264.1 L200.2 260.2Z" fill="#ffdd00"/><path d="M206.4 258.5 L208.7 262.4 L204.6 267.4 L202.2 263.5Z" fill="#ffb600"/><path d="M208.4 261.9 L210.6 265.8 L206.7 270.8 L204.3 266.9Z" fill="#ff9300"/><path d="M210.3 265.3 L212.5 269.1 L208.8 274.1 L206.4 270.3Z" fill="#ff7300"/><path d="M191.8 246.7 L194.2 250.6 L190.2 256.5 L187.8 252.7Z" fill="#50ffaf"/><path d="M193.9 250.1 L196.3 254.0 L192.3 259.7 L189.9 255.9Z" fill="#50ffaf"/><path d="M196.0 253.5 L198.4 257.3 L194.4 262.9 L192.0 259.1Z" fill="#b8ff47"/><path d="M198.1 256.8 L200.5 260.7 L196.5 266.1 L194.1 262.3Z" fill="#f2ff0d"/><path d="M200.2 260.2 L202.6 264.1 L198.6 269.3 L196.2 265.5Z" fill="#ffdf00"/><path d="M202.2 263.5 L204.6 267.4 L200.6 272.5 L198.2 268.7Z" fill="#ffb700"/><path d="M204.3 266.9 L206.7 270.8 L202.7 275.7 L200.3 271.9Z" fill="#ff9300"/><path d="M206.4 270.3 L208.8 274.1 L204.8 278.9 L202.4 275.1Z" fill="#ff7300"/><path d="M187.8 252.7 L190.2 256.5 L186.2 263.3 L183.8 259.8Z" fill="#54ffab"/><path d="M189.9 255.9 L192.3 259.7 L188.3 266.3 L185.9 262.8Z" fill="#54ffab"/><path d="M192.0 259.1 L194.4 262.9 L190.4 269.4 L188.0 265.8Z" fill="#baff45"/><path d="M194.1 262.3 L196.5 266.1 L192.5 272.4 L190.1 268.9Z" fill="#f3ff0c"/><path d="M196.2 265.5 L198.6 269.3 L194.6 275.4 L192.2 271.9Z" fill="#ffdd00"/><path d="M198.2 268.7 L200.6 272.5 L196.6 278.5 L194.2 275.0Z" fill="#ffb600"/><path d="M200.3 271.9 L202.7 275.7 L198.7 281.5 L196.3 278.0Z" fill="#ff9300"/><path d="M202.4 275.1 L204.8 278.9 L200.8 284.6 L198.4 281.0Z" fill="#ff7300"/><path d="M183.8 259.8 L186.2 263.3 L182.3 269.3 L179.8 265.8Z" fill="#5effa1"/><path d="M185.9 262.8 L188.3 266.3 L184.5 272.3 L182.0 268.8Z" fill="#5effa1"/><path d="M188.0 265.8 L190.4 269.4 L186.7 275.4 L184.1 271.8Z" fill="#bfff40"/><path d="M190.1 268.9 L192.5 272.4 L188.8 278.4 L186.3 274.9Z" fill="#f7ff08"/><path d="M192.2 271.9 L194.6 275.4 L191.0 281.4 L188.5 277.9Z" fill="#ffda00"/><path d="M194.2 275.0 L196.6 278.5 L193.1 284.5 L190.6 281.0Z" fill="#ffb400"/><path d="M196.3 278.0 L198.7 281.5 L195.3 287.5 L192.8 284.0Z" fill="#ff9200"/><path d="M198.4 281.0 L200.8 284.6 L197.5 290.6 L194.9 287.0Z" fill="#ff7200"/><path d="M179.8 265.8 L182.3 269.3 L178.8 275.3 L176.3 271.8Z" fill="#67ff98"/><path d="M182.0 268.8 L184.5 272.3 L181.0 278.3 L178.5 274.8Z" fill="#67ff98"/><path d="M184.1 271.8 L186.7 275.4 L183.2 281.4 L180.6 277.8Z" fill="#c4ff3b"/><path d="M186.3 274.9 L188.8 278.4 L185.3 284.4 L182.8 280.9Z" fill="#fbff04"/><path d="M188.5 277.9 L191.0 281.4 L187.5 287.4 L185.0 283.9Z" fill="#ffd700"/><path d="M190.6 281.0 L193.1 284.5 L189.6 290.5 L187.1 287.0Z" fill="#ffb200"/><path d="M192.8 284.0 L195.3 287.5 L191.8 293.5 L189.3 290.0Z" fill="#ff9100"/><path d="M194.9 287.0 L197.5 290.6 L194.0 296.6 L191.4 293.0Z" fill="#ff7200"/><path d="M176.3 271.8 L178.8 275.3 L175.0 282.1 L172.3 278.8Z" fill="#71ff8e"/><path d="M178.5 274.8 L181.0 278.3 L177.3 285.0 L174.6 281.6Z" fill="#71ff8e"/><path d="M180.6 277.8 L183.2 281.4 L179.6 287.9 L177.0 284.5Z" fill="#c8ff37"/><path d="M182.8 280.9 L185.3 284.4 L182.0 290.8 L179.3 287.4Z" fill="#ffff00"/><path d="M185.0 283.9 L187.5 287.4 L184.3 293.6 L181.6 290.3Z" fill="#ffd500"/><path d="M187.1 287.0 L189.6 290.5 L186.6 296.5 L183.9 293.2Z" fill="#ffb000"/><path d="M189.3 290.0 L191.8 293.5 L188.9 299.4 L186.2 296.0Z" fill="#ff9000"/><path d="M191.4 293.0 L194.0 296.6 L191.2 302.3 L188.6 298.9Z" fill="#ff7200"/><path d="M172.3 278.8 L175.0 282.1 L169.0 288.3 L165.8 284.8Z" fill="#7aff85"/><path d="M174.6 281.6 L177.3 285.0 L171.8 291.3 L168.6 287.8Z" fill="#7aff85"/><path d="M177.0 284.5 L179.6 287.9 L174.6 294.4 L171.4 290.8Z" fill="#cdff32"/><path d="M179.3 287.4 L182.0 290.8 L177.4 297.4 L174.2 293.9Z" fill="#fffb00"/><path d="M181.6 290.3 L184.3 293.6 L180.2 300.4 L177.0 296.9Z" fill="#ffd200"/><path d="M183.9 293.2 L186.6 296.5 L183.0 303.5 L179.8 300.0Z" fill="#ffae00"/><path d="M186.2 296.0 L188.9 299.4 L185.8 306.5 L182.6 303.0Z" fill="#ff8e00"/><path d="M188.6 298.9 L191.2 302.3 L188.6 309.6 L185.4 306.0Z" fill="#ff7100"/><path d="M165.8 284.8 L169.0 288.3 L161.8 295.3 L157.7 291.8Z" fill="#88ff77"/><path d="M168.6 287.8 L171.8 291.3 L165.3 298.3 L161.2 294.8Z" fill="#88ff77"/><path d="M171.4 290.8 L174.6 294.4 L168.8 301.4 L164.8 297.8Z" fill="#d3ff2c"/><path d="M174.2 293.9 L177.4 297.4 L172.4 304.4 L168.3 300.9Z" fill="#fff600"/><path d="M177.0 296.9 L180.2 300.4 L175.9 307.4 L171.8 303.9Z" fill="#ffce00"/><path d="M179.8 300.0 L183.0 303.5 L179.4 310.5 L175.3 307.0Z" fill="#ffab00"/><path d="M182.6 303.0 L185.8 306.5 L182.9 313.5 L178.8 310.0Z" fill="#ff8d00"/><path d="M185.4 306.0 L188.6 309.6 L186.4 316.6 L182.4 313.0Z" fill="#ff7100"/><path d="M157.7 291.8 L161.8 295.3 L157.0 304.8 L152.7 301.8Z" fill="#a0ff5f"/><path d="M161.2 294.8 L165.3 298.3 L160.7 307.3 L156.4 304.4Z" fill="#a0ff5f"/><path d="M164.8 297.8 L168.8 301.4 L164.3 309.9 L160.1 306.9Z" fill="#e0ff1f"/><path d="M168.3 300.9 L172.4 304.4 L168.0 312.4 L163.7 309.5Z" fill="#ffec00"/><path d="M171.8 303.9 L175.9 307.4 L171.7 315.0 L167.4 312.0Z" fill="#ffc600"/><path d="M175.3 307.0 L179.4 310.5 L175.4 317.6 L171.1 314.6Z" fill="#ffa600"/><path d="M178.8 310.0 L182.9 313.5 L179.1 320.1 L174.8 317.2Z" fill="#ff8a00"/><path d="M182.4 313.0 L186.4 316.6 L182.7 322.7 L178.5 319.7Z" fill="#ff7000"/><path d="M152.7 301.8 L157.0 304.8 L150.7 310.6 L146.7 307.8Z" fill="#b8ff47"/><path d="M156.4 304.4 L160.7 307.3 L154.1 313.0 L150.1 310.2Z" fill="#b8ff47"/><path d="M160.1 306.9 L164.3 309.9 L157.5 315.5 L153.6 312.7Z" fill="#efff10"/><path d="M163.7 309.5 L168.0 312.4 L161.0 317.9 L157.0 315.1Z" fill="#ffe100"/><path d="M167.4 312.0 L171.7 315.0 L164.4 320.3 L160.4 317.5Z" fill="#ffbe00"/><path d="M171.1 314.6 L175.4 317.6 L167.8 322.7 L163.8 319.9Z" fill="#ffa100"/><path d="M174.8 317.2 L179.1 320.1 L171.2 325.2 L167.2 322.3Z" fill="#ff8600"/><path d="M178.5 319.7 L182.7 322.7 L174.6 327.6 L170.7 324.8Z" fill="#ff6f00"/><path d="M146.7 307.8 L150.7 310.6 L147.6 318.5 L143.7 315.8Z" fill="#c6ff39"/><path d="M150.1 310.2 L154.1 313.0 L151.0 320.7 L147.1 318.1Z" fill="#c6ff39"/><path d="M153.6 312.7 L157.5 315.5 L154.3 323.0 L150.4 320.4Z" fill="#faff05"/><path d="M157.0 315.1 L161.0 317.9 L157.7 325.3 L153.8 322.7Z" fill="#ffd800"/><path d="M160.4 317.5 L164.4 320.3 L161.0 327.6 L157.1 324.9Z" fill="#ffb800"/><path d="M163.8 319.9 L167.8 322.7 L164.4 329.9 L160.5 327.2Z" fill="#ff9c00"/><path d="M167.2 322.3 L171.2 325.2 L167.7 332.1 L163.8 329.5Z" fill="#ff8400"/><path d="M170.7 324.8 L174.6 327.6 L171.1 334.4 L167.2 331.8Z" fill="#ff6e00"/><path d="M143.7 315.8 L147.6 318.5 L150.0 325.2 L147.8 323.9Z" fill="#cfff30"/><path d="M147.1 318.1 L151.0 320.7 L151.9 326.3 L149.7 325.0Z" fill="#cfff30"/><path d="M150.4 320.4 L154.3 323.0 L153.8 327.5 L151.6 326.2Z" fill="#fffa00"/><path d="M153.8 322.7 L157.7 325.3 L155.7 328.6 L153.5 327.3Z" fill="#ffd200"/><path d="M157.1 324.9 L161.0 327.6 L157.5 329.7 L155.3 328.4Z" fill="#ffb300"/><path d="M160.5 327.2 L164.4 329.9 L159.4 330.8 L157.2 329.5Z" fill="#ff9900"/><path d="M163.8 329.5 L167.7 332.1 L161.3 332.0 L159.1 330.7Z" fill="#ff8200"/><path d="M167.2 331.8 L171.1 334.4 L163.2 333.1 L161.0 331.8Z" fill="#ff6d00"/><path d="M147.8 323.9 L150.0 325.2 L152.9 333.1 L151.4 331.9Z" fill="#d9ff26"/><path d="M149.7 325.0 L151.9 326.3 L154.2 334.1 L152.7 332.9Z" fill="#d9ff26"/><path d="M151.6 326.2 L153.8 327.5 L155.5 335.1 L154.0 333.9Z" fill="#fff500"/><path d="M153.5 327.3 L155.7 328.6 L156.9 336.1 L155.3 334.9Z" fill="#ffcd00"/><path d="M155.3 328.4 L157.5 329.7 L158.2 337.1 L156.6 335.9Z" fill="#ffb000"/><path d="M157.2 329.5 L159.4 330.8 L159.5 338.1 L158.0 336.9Z" fill="#ff9700"/><path d="M159.1 330.7 L161.3 332.0 L160.8 339.1 L159.3 337.9Z" fill="#ff8100"/><path d="M161.0 331.8 L163.2 333.1 L162.1 340.1 L160.6 338.9Z" fill="#ff6d00"/><path d="M151.4 331.9 L152.9 333.1 L152.8 345.7 L151.4 344.9Z" fill="#e2ff1d"/><path d="M152.7 332.9 L154.2 334.1 L154.1 346.3 L152.7 345.6Z" fill="#e2ff1d"/><path d="M154.0 333.9 L155.5 335.1 L155.3 346.9 L153.9 346.2Z" fill="#ffed00"/><path d="M155.3 334.9 L156.9 336.1 L156.6 347.6 L155.2 346.8Z" fill="#ffc800"/><path d="M156.6 335.9 L158.2 337.1 L157.8 348.2 L156.4 347.4Z" fill="#ffac00"/><path d="M158.0 336.9 L159.5 338.1 L159.1 348.8 L157.7 348.1Z" fill="#ff9500"/><path d="M159.3 337.9 L160.8 339.1 L160.3 349.4 L158.9 348.7Z" fill="#ff8000"/><path d="M160.6 338.9 L162.1 340.1 L161.6 350.1 L160.2 349.3Z" fill="#ff6c00"/><path d="M151.4 344.9 L152.8 345.7 L152.8 357.5 L151.4 357.0Z" fill="#f0ff0f"/><path d="M152.7 345.6 L154.1 346.3 L154.0 358.0 L152.6 357.5Z" fill="#f0ff0f"/><path d="M153.9 346.2 L155.3 346.9 L155.2 358.5 L153.8 358.0Z" fill="#ffe300"/><path d="M155.2 346.8 L156.6 347.6 L156.3 359.0 L155.0 358.5Z" fill="#ffc100"/><path d="M156.4 347.4 L157.8 348.2 L157.5 359.5 L156.2 359.0Z" fill="#ffa700"/><path d="M157.7 348.1 L159.1 348.8 L158.7 360.0 L157.3 359.5Z" fill="#ff9100"/><path d="M158.9 348.7 L160.3 349.4 L159.9 360.5 L158.5 360.0Z" fill="#ff7d00"/><path d="M160.2 349.3 L161.6 350.1 L161.1 361.0 L159.7 360.5Z" fill="#ff6c00"/><path d="M151.4 357.0 L152.8 357.5 L152.2 367.4 L150.9 367.0Z" fill="#fffb00"/><path d="M152.6 357.5 L154.0 358.0 L153.3 367.8 L152.0 367.3Z" fill="#fffb00"/><path d="M153.8 358.0 L155.2 358.5 L154.5 368.2 L153.2 367.7Z" fill="#ffd500"/><path d="M155.0 358.5 L156.3 359.0 L155.6 368.5 L154.3 368.1Z" fill="#ffb600"/><path d="M156.2 359.0 L157.5 359.5 L156.7 368.9 L155.4 368.5Z" fill="#ff9f00"/><path d="M157.3 359.5 L158.7 360.0 L157.8 369.3 L156.5 368.8Z" fill="#ff8c00"/><path d="M158.5 360.0 L159.9 360.5 L159.0 369.7 L157.7 369.2Z" fill="#ff7b00"/><path d="M159.7 360.5 L161.1 361.0 L160.1 370.0 L158.8 369.6Z" fill="#ff6b00"/><path d="M150.9 367.0 L152.2 367.4 L146.6 372.8 L144.9 371.9Z" fill="#ffe800"/><path d="M152.0 367.3 L153.3 367.8 L148.1 373.6 L146.4 372.7Z" fill="#ffe800"/><path d="M153.2 367.7 L154.5 368.2 L149.6 374.3 L147.9 373.4Z" fill="#ffd900"/><path d="M154.3 368.1 L155.6 368.5 L151.1 375.1 L149.4 374.2Z" fill="#ffb400"/><path d="M155.4 368.5 L156.7 368.9 L152.6 375.8 L150.9 374.9Z" fill="#ff9d00"/><path d="M156.5 368.8 L157.8 369.3 L154.1 376.6 L152.4 375.7Z" fill="#ff8a00"/><path d="M157.7 369.2 L159.0 369.7 L155.6 377.3 L153.9 376.4Z" fill="#ff7900"/><path d="M158.8 369.6 L160.1 370.0 L157.1 378.1 L155.4 377.2Z" fill="#ff6a00"/><path d="M144.9 371.9 L146.6 372.8 L143.7 380.8 L141.9 379.9Z" fill="#ffd500"/><path d="M146.4 372.7 L148.1 373.6 L145.2 381.6 L143.4 380.7Z" fill="#ffd500"/><path d="M147.9 373.4 L149.6 374.3 L146.8 382.3 L145.0 381.4Z" fill="#ffd500"/><path d="M149.4 374.2 L151.1 375.1 L148.4 383.1 L146.6 382.2Z" fill="#ffb800"/><path d="M150.9 374.9 L152.6 375.8 L149.9 383.8 L148.1 382.9Z" fill="#ff9d00"/><path d="M152.4 375.7 L154.1 376.6 L151.5 384.6 L149.7 383.7Z" fill="#ff8900"/><path d="M153.9 376.4 L155.6 377.3 L153.1 385.3 L151.2 384.4Z" fill="#ff7900"/><path d="M155.4 377.2 L157.1 378.1 L154.6 386.1 L152.8 385.2Z" fill="#ff6a00"/><path d="M141.9 379.9 L143.7 380.8 L139.9 390.5 L137.9 390.0Z" fill="#ffc200"/><path d="M143.4 380.7 L145.2 381.6 L141.6 391.0 L139.6 390.5Z" fill="#ffc200"/><path d="M145.0 381.4 L146.8 382.3 L143.4 391.5 L141.4 391.0Z" fill="#ffc200"/><path d="M146.6 382.2 L148.4 383.1 L145.1 392.0 L143.1 391.5Z" fill="#ffb800"/><path d="M148.1 382.9 L149.9 383.8 L146.9 392.5 L144.9 392.0Z" fill="#ff9900"/><path d="M149.7 383.7 L151.5 384.6 L148.6 393.0 L146.6 392.5Z" fill="#ff8600"/><path d="M151.2 384.4 L153.1 385.3 L150.4 393.5 L148.4 393.0Z" fill="#ff7700"/><path d="M152.8 385.2 L154.6 386.1 L152.1 394.0 L150.1 393.5Z" fill="#ff6a00"/><path d="M137.9 390.0 L139.9 390.5 L139.2 402.3 L137.4 402.0Z" fill="#ffb400"/><path d="M139.6 390.5 L141.6 391.0 L140.8 402.5 L138.9 402.2Z" fill="#ffb400"/><path d="M141.4 391.0 L143.4 391.5 L142.3 402.8 L140.5 402.5Z" fill="#ffb400"/><path d="M143.1 391.5 L145.1 392.0 L143.9 403.0 L142.1 402.7Z" fill="#ffb400"/><path d="M144.9 392.0 L146.9 392.5 L145.4 403.3 L143.6 403.0Z" fill="#ff9800"/><path d="M146.6 392.5 L148.6 393.0 L147.0 403.5 L145.2 403.2Z" fill="#ff8500"/><path d="M148.4 393.0 L150.4 393.5 L148.6 403.8 L146.8 403.5Z" fill="#ff7600"/><path d="M150.1 393.5 L152.1 394.0 L150.1 404.0 L148.3 403.7Z" fill="#ff6900"/><path d="M137.4 402.0 L139.2 402.3 L139.0 415.0 L137.4 415.0Z" fill="#ffa600"/><path d="M138.9 402.2 L140.8 402.5 L140.4 415.0 L138.8 415.0Z" fill="#ffa600"/><path d="M140.5 402.5 L142.3 402.8 L141.7 415.0 L140.1 415.0Z" fill="#ffa600"/><path d="M142.1 402.7 L143.9 403.0 L143.1 415.0 L141.5 415.0Z" fill="#ffa600"/><path d="M143.6 403.0 L145.4 403.3 L144.5 415.0 L142.9 415.0Z" fill="#ff9200"/><path d="M145.2 403.2 L147.0 403.5 L145.9 415.0 L144.3 415.0Z" fill="#ff8000"/><path d="M146.8 403.5 L148.6 403.8 L147.2 415.0 L145.6 415.0Z" fill="#ff7300"/><path d="M148.3 403.7 L150.1 404.0 L148.6 415.0 L147.0 415.0Z" fill="#ff6800"/><path d="M137.4 415.0 L139.0 415.0 L138.8 428.0 L137.4 428.0Z" fill="#ff9300"/><path d="M138.8 415.0 L140.4 415.0 L140.1 428.0 L138.7 428.0Z" fill="#ff9300"/><path d="M140.1 415.0 L141.7 415.0 L141.3 428.0 L139.9 428.0Z" fill="#ff9300"/><path d="M141.5 415.0 L143.1 415.0 L142.6 428.0 L141.2 428.0Z" fill="#ff9300"/><path d="M142.9 415.0 L144.5 415.0 L143.8 428.0 L142.4 428.0Z" fill="#ff8500"/><path d="M144.3 415.0 L145.9 415.0 L145.1 428.0 L143.7 428.0Z" fill="#ff7800"/><path d="M145.6 415.0 L147.2 415.0 L146.3 428.0 L144.9 428.0Z" fill="#ff6f00"/><path d="M147.0 415.0 L148.6 415.0 L147.6 428.0 L146.2 428.0Z" fill="#ff6700"/><path d="M137.4 428.0 L138.8 428.0 L141.9 435.1 L140.9 435.0Z" fill="#ff8400"/><path d="M138.7 428.0 L140.1 428.0 L142.7 435.3 L141.7 435.1Z" fill="#ff8400"/><path d="M139.9 428.0 L141.3 428.0 L143.5 435.4 L142.6 435.2Z" fill="#ff8400"/><path d="M141.2 428.0 L142.6 428.0 L144.3 435.5 L143.4 435.4Z" fill="#ff8400"/><path d="M142.4 428.0 L143.8 428.0 L145.1 435.6 L144.2 435.5Z" fill="#ff7b00"/><path d="M143.7 428.0 L145.1 428.0 L145.9 435.8 L145.0 435.6Z" fill="#ff7200"/><path d="M144.9 428.0 L146.3 428.0 L146.8 435.9 L145.8 435.7Z" fill="#ff6b00"/><path d="M146.2 428.0 L147.6 428.0 L147.6 436.0 L146.6 435.9Z" fill="#ff6600"/><path d="M140.9 435.0 L141.9 435.1 L141.9 446.0 L140.9 446.0Z" fill="#ff7600"/><path d="M141.7 435.1 L142.7 435.3 L142.7 446.0 L141.7 446.0Z" fill="#ff7600"/><path d="M142.6 435.2 L143.5 435.4 L143.5 446.0 L142.6 446.0Z" fill="#ff7600"/><path d="M143.4 435.4 L144.3 435.5 L144.3 446.0 L143.4 446.0Z" fill="#ff7600"/><path d="M144.2 435.5 L145.1 435.6 L145.1 446.0 L144.2 446.0Z" fill="#ff7100"/><path d="M145.0 435.6 L145.9 435.8 L145.9 446.0 L145.0 446.0Z" fill="#ff6c00"/><path d="M145.8 435.7 L146.8 435.9 L146.8 446.0 L145.8 446.0Z" fill="#ff6800"/><path d="M146.6 435.9 L147.6 436.0 L147.6 446.0 L146.6 446.0Z" fill="#ff6500"/><path d="M140.9 446.0 L141.9 446.0 L134.8 455.0 L132.9 455.0Z" fill="#ff6800"/><path d="M141.7 446.0 L142.7 446.0 L136.4 455.0 L134.5 455.0Z" fill="#ff6800"/><path d="M142.6 446.0 L143.5 446.0 L138.0 455.0 L136.1 455.0Z" fill="#ff6800"/><path d="M143.4 446.0 L144.3 446.0 L139.6 455.0 L137.7 455.0Z" fill="#ff6800"/><path d="M144.2 446.0 L145.1 446.0 L141.3 455.0 L139.4 455.0Z" fill="#ff6700"/><path d="M145.0 446.0 L145.9 446.0 L142.9 455.0 L141.0 455.0Z" fill="#ff6500"/><path d="M145.8 446.0 L146.8 446.0 L144.5 455.0 L142.6 455.0Z" fill="#ff6500"/><path d="M146.6 446.0 L147.6 446.0 L146.1 455.0 L144.2 455.0Z" fill="#ff6400"/><path d="M132.9 455.0 L134.8 455.0 L130.9 464.0 L128.9 464.0Z" fill="#ff5a00"/><path d="M134.5 455.0 L136.4 455.0 L132.6 464.0 L130.6 464.0Z" fill="#ff5a00"/><path d="M136.1 455.0 L138.0 455.0 L134.4 464.0 L132.4 464.0Z" fill="#ff5a00"/><path d="M137.7 455.0 L139.6 455.0 L136.1 464.0 L134.1 464.0Z" fill="#ff5a00"/><path d="M139.4 455.0 L141.3 455.0 L137.9 464.0 L135.9 464.0Z" fill="#ff5d00"/><path d="M141.0 455.0 L142.9 455.0 L139.6 464.0 L137.6 464.0Z" fill="#ff5f00"/><path d="M142.6 455.0 L144.5 455.0 L141.4 464.0 L139.4 464.0Z" fill="#ff6100"/><path d="M144.2 455.0 L146.1 455.0 L143.1 464.0 L141.1 464.0Z" fill="#ff6300"/><path d="M128.9 464.0 L130.9 464.0 L124.9 472.0 L122.9 472.0Z" fill="#ff4700"/><path d="M130.6 464.0 L132.6 464.0 L126.6 472.0 L124.6 472.0Z" fill="#ff4700"/><path d="M132.4 464.0 L134.4 464.0 L128.4 472.0 L126.4 472.0Z" fill="#ff4700"/><path d="M134.1 464.0 L136.1 464.0 L130.1 472.0 L128.1 472.0Z" fill="#ff4700"/><path d="M135.9 464.0 L137.9 464.0 L131.9 472.0 L129.9 472.0Z" fill="#ff4f00"/><path d="M137.6 464.0 L139.6 464.0 L133.6 472.0 L131.6 472.0Z" fill="#ff5700"/><path d="M139.4 464.0 L141.4 464.0 L135.4 472.0 L133.4 472.0Z" fill="#ff5d00"/><path d="M141.1 464.0 L143.1 464.0 L137.1 472.0 L135.1 472.0Z" fill="#ff6100"/>
</g>
<g fill="none" stroke="#000" stroke-width="1.05" stroke-linejoin="round">
<path d="M312.2 118.0 L305.9 118.5 L305.0 125.1 L304.9 135.0 L305.4 143.1"/><path d="M312.5 118.0 L306.4 118.7 L305.4 125.2 L305.3 135.0 L305.9 143.2 L308.3 150.1"/><path d="M312.7 118.0 L306.8 118.8 L305.9 125.3 L305.8 135.0 L306.4 143.2 L308.6 150.2"/><path d="M312.9 118.0 L307.2 119.0 L306.3 125.4 L306.2 135.0 L306.8 143.3 L309.0 150.2 L308.3 154.2"/><path d="M313.2 118.0 L307.7 119.2 L306.8 125.5 L306.6 135.0 L307.2 143.4 L309.3 150.3 L308.6 154.4"/><path d="M313.4 118.0 L308.1 119.4 L307.2 125.6 L307.0 135.0 L307.7 143.4 L309.6 150.4 L309.0 154.6 L303.6 157.3"/><path d="M313.6 118.0 L308.5 119.5 L307.7 125.7 L307.5 135.0 L308.1 143.5 L309.9 150.5 L309.3 154.7 L304.1 157.5"/><path d="M313.9 118.0 L309.0 119.7 L308.1 125.8 L307.9 135.0 L308.6 143.6 L310.2 150.6 L309.6 154.9 L304.7 157.8"/><path d="M314.1 118.0 L309.4 119.9 L308.6 125.8 L308.3 135.0 L309.1 143.7 L310.6 150.6 L309.9 155.1 L305.3 158.1"/><path d="M314.3 118.0 L309.8 120.1 L309.0 125.9 L308.7 135.0 L309.5 143.8 L310.9 150.7 L310.3 155.3 L305.9 158.4"/><path d="M314.6 118.0 L310.3 120.3 L309.5 126.0 L309.1 135.0 L309.9 143.8 L311.2 150.8 L310.6 155.5 L306.4 158.6"/><path d="M314.8 118.0 L310.7 120.4 L309.9 126.1 L309.6 135.0 L310.4 143.9 L311.5 150.9 L310.9 155.7 L307.0 158.9"/><path d="M315.0 118.0 L311.1 120.6 L310.4 126.2 L310.0 135.0 L310.9 144.0 L311.8 151.0 L311.2 155.8 L307.6 159.2"/><path d="M315.3 118.0 L311.6 120.8 L310.8 126.3 L310.4 135.0 L311.3 144.1 L312.2 151.0 L311.6 156.0 L308.2 159.5"/><path d="M315.5 118.0 L312.0 121.0 L311.3 126.4 L310.8 135.0 L311.8 144.1 L312.5 151.1 L311.9 156.2 L308.7 159.7"/><path d="M315.8 118.0 L312.4 121.2 L311.8 126.5 L311.3 135.0 L312.2 144.2 L312.8 151.2 L312.2 156.4 L309.3 160.0"/>
</g>
<g fill="none" stroke="#000" stroke-width="0.85" stroke-linejoin="round">
<path d="M303.6 157.3 L299.7 160.3 L296.8 163.9 L294.0 168.4 L291.9 174.3 L290.2 180.4 L289.2 187.3 L288.7 193.4 L288.1 200.4 L285.9 209.7 L283.0 216.3 L279.7 221.3 L274.4 224.6"/><path d="M304.1 157.5 L300.5 160.7 L297.7 164.2 L294.9 168.8 L292.7 174.7 L291.0 180.7 L290.0 187.5 L289.5 193.6 L288.9 200.5 L286.5 209.6 L283.8 216.2 L280.6 221.4 L275.5 224.9"/><path d="M304.7 157.8 L301.2 161.0 L298.5 164.6 L295.9 169.2 L293.6 175.0 L291.8 181.0 L290.8 187.7 L290.4 193.7 L289.6 200.6 L287.2 209.5 L284.5 216.1 L281.5 221.4 L276.6 225.2"/><path d="M305.3 158.1 L301.9 161.4 L299.4 165.0 L296.8 169.6 L294.4 175.4 L292.6 181.2 L291.6 187.8 L291.2 193.9 L290.4 200.8 L287.8 209.4 L285.2 216.0 L282.4 221.5 L277.7 225.6"/><path d="M305.9 158.4 L302.7 161.7 L300.2 165.3 L297.8 170.0 L295.3 175.7 L293.4 181.5 L292.4 188.0 L292.1 194.0 L291.1 200.9 L288.5 209.3 L286.0 215.9 L283.3 221.6 L278.8 225.9"/><path d="M306.4 158.6 L303.4 162.0 L301.1 165.7 L298.7 170.4 L296.2 176.0 L294.2 181.8 L293.2 188.1 L292.9 194.2 L291.8 201.0 L289.1 209.1 L286.7 215.8 L284.2 221.7 L279.9 226.2"/><path d="M307.0 158.9 L304.1 162.4 L301.9 166.1 L299.7 170.8 L297.0 176.4 L295.0 182.0 L294.0 188.3 L293.8 194.3 L292.6 201.2 L289.8 209.0 L287.4 215.8 L285.1 221.8 L281.0 226.6"/><path d="M307.6 159.2 L304.9 162.7 L302.8 166.4 L300.7 171.2 L297.9 176.7 L295.8 182.3 L294.8 188.5 L294.7 194.5 L293.3 201.3 L290.4 208.9 L288.2 215.7 L286.0 221.9 L282.1 226.9"/><path d="M308.2 159.5 L305.6 163.0 L303.6 166.8 L301.6 171.6 L298.7 177.0 L296.6 182.6 L295.6 188.6 L295.5 194.6 L294.0 201.4 L291.1 208.8 L288.9 215.6 L286.8 222.0 L283.2 227.2"/><path d="M308.7 159.7 L306.3 163.4 L304.5 167.2 L302.6 171.9 L299.6 177.4 L297.4 182.8 L296.4 188.8 L296.4 194.8 L294.8 201.6 L291.7 208.7 L289.6 215.5 L287.7 222.0 L284.3 227.6"/><path d="M309.3 160.0 L307.1 163.7 L305.3 167.5 L303.5 172.3 L300.5 177.7 L298.1 183.1 L297.2 188.9 L297.2 194.9 L295.5 201.7 L292.4 208.6 L290.4 215.4 L288.6 222.1 L285.4 227.9"/>
</g>
<g fill="none" stroke="#000" stroke-width="0.8" stroke-linejoin="round">
<path d="M267.3 226.7 L256.2 230.0 L244.5 231.0"/><path d="M268.0 227.0 L256.7 230.5 L244.8 231.4 L233.4 231.6"/><path d="M269.0 227.4 L257.4 231.0 L245.4 232.0 L233.7 232.1 L222.9 232.4 L216.1 233.5"/><path d="M270.0 227.8 L258.3 231.8 L246.0 232.8 L234.2 232.8 L223.2 233.0 L216.4 234.1 L210.8 238.7 L205.1 242.9 L200.1 247.4"/><path d="M273.5 224.3 L271.3 228.3 L259.4 232.7 L246.8 233.8 L234.8 233.8 L223.7 233.9 L216.9 235.1 L211.2 239.4 L205.5 243.6 L200.5 248.1 L195.6 252.7 L191.6 258.5 L187.7 265.3"/><path d="M274.0 224.4 L272.7 228.9 L260.6 233.7 L247.7 234.9 L235.6 234.9 L224.3 235.0 L217.5 236.3 L211.7 240.4 L206.1 244.6 L201.1 249.1 L196.1 253.6 L192.1 259.2 L188.2 266.1 L183.8 271.4 L180.4 277.6"/><path d="M274.7 224.6 L274.2 229.6 L262.0 234.8 L248.7 236.2 L236.4 236.1 L225.0 236.3 L218.1 237.7 L212.4 241.7 L206.8 245.9 L201.8 250.4 L196.8 254.7 L192.8 260.4 L188.9 267.1 L184.5 272.3 L181.1 278.4 L176.9 284.5 L171.3 290.8"/><path d="M275.5 224.9 L275.9 230.3 L263.6 236.1 L249.9 237.5 L237.4 237.6 L225.8 237.8 L218.9 239.3 L213.2 243.2 L207.7 247.5 L202.7 252.0 L197.7 256.2 L193.7 261.8 L189.8 268.5 L185.3 273.5 L181.9 279.6 L177.7 285.4 L172.3 291.8 L165.3 298.3"/><path d="M276.5 225.2 L277.8 231.0 L265.3 237.5 L251.1 239.0 L238.4 239.1 L226.7 239.5 L219.8 241.1 L214.2 245.0 L208.7 249.3 L203.7 253.8 L198.8 258.0 L194.8 263.5 L190.9 270.1 L186.5 275.1 L183.0 281.2 L178.8 286.8 L173.6 293.3 L166.7 299.5 L160.8 307.4"/><path d="M277.6 225.5 L279.7 231.8 L267.1 239.0 L252.4 240.7 L239.6 240.9 L227.7 241.4 L220.7 243.1 L215.2 246.9 L209.9 251.3 L204.9 255.8 L200.1 260.0 L196.1 265.4 L192.1 271.9 L187.8 277.0 L184.4 283.1 L180.2 288.6 L175.3 295.1 L168.7 301.3 L162.7 308.7 L154.9 313.6 L151.2 320.9"/><path d="M278.9 225.9 L281.8 232.7 L269.1 240.6 L253.9 242.4 L240.8 242.7 L228.8 243.4 L221.8 245.3 L216.4 249.1 L211.1 253.5 L206.1 258.0 L201.5 262.3 L197.5 267.6 L193.6 274.0 L189.3 279.1 L185.9 285.2 L181.9 290.7 L177.3 297.3 L171.3 303.5 L165.3 310.6 L157.1 315.1 L153.4 322.4 L152.3 326.6 L154.5 334.3"/><path d="M280.4 226.4 L284.1 233.6 L271.1 242.3 L255.4 244.2 L242.1 244.7 L230.0 245.6 L222.9 247.7 L217.7 251.5 L212.5 255.9 L207.5 260.4 L203.1 264.9 L199.1 270.0 L195.1 276.2 L191.0 281.5 L187.6 287.6 L183.8 293.1 L179.7 299.9 L174.3 306.1 L168.7 312.9 L160.2 317.4 L156.5 324.5 L154.0 327.6 L155.7 335.2 L154.6 346.6 L154.5 358.2 L153.8 367.9"/><path d="M281.9 226.8 L286.4 234.6 L273.4 244.1 L257.0 246.2 L243.6 246.8 L231.3 248.0 L224.1 250.3 L219.0 254.1 L214.0 258.6 L209.0 263.1 L204.8 267.7 L200.8 272.7 L196.8 278.7 L192.9 284.2 L189.5 290.3 L186.0 295.8 L182.3 302.7 L177.9 309.1 L172.7 315.7 L164.2 320.2 L160.5 327.3 L156.4 329.0 L157.4 336.5 L156.2 347.4 L156.0 358.9 L155.3 368.4 L150.4 374.7 L148.2 383.0"/><path d="M283.6 227.3 L288.9 235.6 L275.7 246.0 L258.7 248.3 L245.1 249.1 L232.6 250.6 L225.4 253.0 L220.5 256.8 L215.6 261.4 L210.6 265.9 L206.6 270.7 L202.6 275.5 L198.7 281.4 L195.0 287.2 L191.5 293.2 L188.4 298.8 L185.2 305.9 L181.8 312.6 L177.3 318.9 L168.9 323.5 L165.3 330.5 L159.4 330.8 L159.5 338.1 L158.6 348.5 L158.2 359.8 L157.4 369.1 L153.1 376.1 L150.8 384.2 L146.7 392.5 L145.7 403.3 L144.7 415.0"/><path d="M285.4 227.9 L291.4 236.7 L278.2 248.0 L260.5 250.5 L246.6 251.5 L234.1 253.2 L226.8 255.9 L222.1 259.7 L217.4 264.4 L212.4 268.9 L208.6 273.9 L204.6 278.6 L200.6 284.3 L197.3 290.3 L193.8 296.3 L191.1 302.0 L188.4 309.3 L186.2 316.3 L182.4 322.5 L174.4 327.4 L170.8 334.2 L163.0 333.0 L162.0 340.0 L161.5 350.0 L161.0 361.0 L160.0 370.0 L157.0 378.0 L154.5 386.0 L152.0 394.0 L150.0 404.0 L148.5 415.0 L147.5 428.0 L147.5 436.0 L147.5 446.0"/>
</g>
<path d="M360 54.5 L356.25 54.5 L356.25 55.25 L356.25 59 L350.6 59 L350.6 63.4 L343.1 63.4 L343.1 67.1 L336.25 67.1 L336.25 71.5 L333.1 71.5 L333.1 76.5 L326.25 76.5 L326.25 80.25 L319.4 80.25 L319.4 84.6 L312.5 84.6 L312.5 87.75 L305 87.75 L305 94 L297.5 94 L297.5 97.1 L293.75 97.1 L293.75 103.4 L286.9 103.4 L286.9 109 L293.75 109 L293.75 105.25 L311.9 105.25 L311.9 118 L306 118 L304 121 L304 140 L305 146 L308 150 L308 154 L303 157 L299 160 L296 163 L293 168 L291 174 L289 180 L287.5 187 L286.5 190 L286 190 L285 200 L282.5 212.5 L277.5 219 L274 222 L271 225 L241 225 L241 227.5 L220 227.5 L216.25 228 L216.25 231 L213 231 L213 234 L210 234 L210 236.5 L206.5 236.5 L206.5 239.5 L203 239.5 L203 242 L199.5 242 L199.5 245 L196.25 245 L196.25 248.5 L192.5 248.5 L192.5 252 L189 252 L189 260.6 L184.6 260.6 L184.6 265.6 L181 265.6 L181 271.25 L177.75 271.25 L177.75 277.5 L174 277.5 L174 283.75 L167 283.75 L167 288.75 L163.5 288.75 L163.5 292 L160 292 L160 298 L156 298 L156 305 L149.6 305 L149.6 310 L145.25 310 L145.25 317.5 L149.6 317.5 L149.6 325 L152.75 325 L152.75 367.5 L146 367.5 L146 374 L143 374 L143 384 L138.4 384 L138.4 430 L142 430 L142 447 L135 447 L135 455 L131 455 L131 463 L127.5 463 L127.5 470 L124 470 L120 470 L120 50 L357 50Z" fill="#fff"/>
<g fill="none" stroke="#000" stroke-width="1.55" stroke-linejoin="round" stroke-linecap="round">
<path d="M403.5 399 C403.9 398.8 405.2 397.9 406 397.8 C406.8 397.7 408.1 398.5 408.5 398.6"/>
<path d="M124 500.4 C125.7 499.4 130.7 496.5 134 494.7 C137.3 492.9 139.8 492.0 143.6 489.8 C147.4 487.6 152.3 484.1 156.7 481.6 C161.1 479.1 165.8 477.0 169.8 475 C173.9 473.0 177.2 471.1 181 469.4 C184.8 467.6 189.5 465.6 192.7 464.5 C195.9 463.4 198.4 463.7 200.25 462.5 C202.1 461.3 203.2 459.2 204 457.5 C204.8 455.8 205.7 454.0 205.25 452.5 C204.8 451.0 203.2 449.6 201.5 448.75 C199.8 447.9 197.8 447.5 195.25 447.25 C192.8 447.0 189.4 447.2 186.5 447.5 C183.6 447.8 180.2 448.2 177.75 448.75 C175.2 449.3 173.3 449.9 171.5 451 C169.7 452.1 167.9 455.1 167 455.6 C166.1 456.1 166.0 455.1 166 454 C166.0 452.9 166.3 450.5 167 449 C167.7 447.5 168.8 446.5 170 445 C171.2 443.5 172.9 441.2 174 440 C175.1 438.8 174.2 437.9 176.5 437.5 C178.8 437.1 185.1 438.2 188 437.3 C190.9 436.4 192.8 433.9 194 432 C195.2 430.1 194.7 428.5 195.2 426 C195.7 423.5 196.3 420.1 196.9 417 C197.5 413.9 198.2 410.3 198.75 407.5 C199.3 404.7 199.7 402.3 200 400 C200.3 397.7 200.8 395.6 200.6 393.75 C200.4 391.9 198.8 390.6 198.75 388.75 C198.7 386.9 199.3 384.8 200 382.5 C200.7 380.2 202.1 377.5 203.1 375 C204.1 372.5 205.6 369.8 206.25 367.5 C206.9 365.2 207.1 363.0 206.9 361.25 C206.7 359.5 205.7 358.4 205 356.9 C204.3 355.4 202.7 353.6 202.5 352.5 C202.3 351.4 202.5 350.8 203.75 350 C205.0 349.2 207.3 348.4 210 347.5 C212.7 346.6 216.7 345.3 220 344.5 C223.3 343.7 227.1 343.2 230 342.5 C232.9 341.8 235.2 340.7 237.5 340 C239.8 339.3 241.5 338.8 243.75 338.1 C246.0 337.4 248.8 336.5 251.25 335.6 C253.8 334.7 256.5 333.6 258.75 332.5 C261.0 331.4 263.3 330.0 265 328.75 C266.7 327.5 267.9 326.5 268.75 325 C269.6 323.5 270.2 321.2 270 320 C269.8 318.8 268.5 318.6 267.5 317.5 C266.5 316.4 264.9 314.4 263.75 313.1 C262.6 311.9 261.0 310.9 260.6 310 C260.2 309.1 260.5 308.4 261.25 307.5 C262.0 306.6 263.3 305.4 265 304.4 C266.7 303.4 269.4 302.2 271.25 301.25 C273.1 300.3 275.1 299.7 276.25 298.75 C277.4 297.8 278.3 296.9 278.1 295.6 C277.9 294.4 276.1 292.8 275 291.25 C273.9 289.7 272.4 287.7 271.25 286.25 C270.1 284.8 269.1 283.5 268.1 282.5 C267.1 281.5 266.2 280.6 265 280 C263.8 279.4 260.6 279.1 260.6 278.75 C260.6 278.4 263.4 278.1 265 278.1 C266.6 278.1 268.2 278.4 270 278.5 C271.8 278.6 272.8 278.7 275.6 278.75 C278.4 278.8 284.4 277.6 286.8 278.8 C289.2 280.0 289.1 284.8 290 285.8 C290.9 286.8 290.8 284.2 292.4 284.6 C294.0 285.0 296.9 287.2 299.5 288.2 C302.1 289.2 305.6 290.8 307.8 290.6 C310.0 290.4 311.6 288.8 312.6 287 C313.6 285.2 314.2 282.5 313.8 279.9 C313.4 277.3 311.8 274.4 310.2 271.6 C308.6 268.8 305.5 265.6 304.3 263.2 C303.1 260.8 302.3 258.9 303.1 257.3 C303.9 255.7 307.2 254.1 309 253.7 C310.8 253.3 312.2 253.7 313.8 254.9 C315.4 256.1 316.1 259.5 318.5 260.9 C320.9 262.3 324.8 263.0 328 263.2 C331.2 263.4 335.0 263.2 337.6 262 C340.2 260.8 342.9 258.1 343.5 256.1 C344.1 254.1 340.5 252.0 341.1 250.2 C341.7 248.4 344.9 246.5 347.1 245.4 C349.3 244.3 351.4 244.1 354.2 243.7 C357.0 243.3 360.5 243.5 363.7 243 C366.9 242.5 370.2 241.8 373.2 240.6 C376.2 239.4 378.3 237.4 381.6 235.9 C384.9 234.4 389.9 233.3 392.9 231.7 C395.9 230.1 398.3 228.9 399.4 226.4 C400.5 223.9 398.4 218.7 399.4 216.9 C400.4 215.1 403.5 215.3 405.3 215.7 C407.1 216.1 408.7 219.2 410.1 219.2 C411.5 219.2 413.3 217.3 413.7 215.7 C414.1 214.1 411.7 211.5 412.5 209.7 C413.3 207.9 416.0 207.0 418.4 205 C420.8 203.0 426.2 199.4 426.7 197.8 C427.2 196.2 423.2 196.7 421.6 195.5 C420.0 194.3 417.0 191.9 416.8 190.7 C416.6 189.5 418.2 189.0 420.4 188.4 C422.6 187.8 426.3 188.0 429.9 187.2 C433.5 186.4 438.2 185.2 441.8 183.6 C445.4 182.0 447.7 179.5 451.3 177.7 C454.9 175.9 458.9 174.3 463.2 172.9 C467.5 171.5 471.8 170.3 477.4 169.3 C482.9 168.3 490.9 167.6 496.5 167 C502.1 166.4 507.3 167.0 510.7 165.8 C514.1 164.6 513.9 159.8 516.8 159.6 C519.7 159.4 525.5 163.2 528 164.6 C530.5 166.0 530.6 166.6 531.6 168.2 C532.6 169.8 533.0 172.5 534 174.1 C535.0 175.7 536.2 177.7 537.6 177.7 C539.0 177.7 540.7 176.1 542.3 174.1 C543.9 172.1 545.5 167.2 547.1 165.8 C548.7 164.4 550.4 164.6 551.8 165.8 C553.2 167.0 554.0 170.7 555.4 172.9 C556.8 175.1 558.0 177.7 560.2 178.9 C562.4 180.1 565.9 179.4 568.5 180 C571.1 180.6 573.2 181.2 575.6 182.4 C578.0 183.6 580.6 185.0 582.7 187.2 C584.8 189.4 586.1 193.0 588.1 195.7 C590.1 198.4 594.1 201.6 594.7 203.6 C595.4 205.6 594.4 206.5 592 207.6 C589.6 208.7 584.4 208.9 580.2 210.2 C576.1 211.5 571.5 213.4 567.1 215.4 C562.7 217.4 557.9 219.8 554 222 C550.1 224.2 547.0 226.6 543.5 228.6 C540.0 230.6 536.7 232.5 533 233.8 C529.3 235.1 525.1 235.8 521.2 236.4 C517.3 237.0 512.3 236.4 509.7 237.5 C507.1 238.6 505.2 241.2 505.4 243 C505.6 244.8 509.6 246.0 510.7 248.2 C511.8 250.4 512.7 253.5 512 256.1 C511.3 258.7 508.9 260.9 506.7 264 C504.5 267.1 501.3 271.2 498.9 274.5 C496.5 277.8 494.1 280.6 492.3 283.7 C490.6 286.8 489.9 289.6 488.4 292.9 C486.9 296.2 484.9 301.2 483.1 303.4 C481.3 305.6 479.5 304.4 477.4 306 C475.3 307.6 472.7 310.8 470.3 313 C467.9 315.2 465.0 317.6 463.2 319 C461.4 320.4 460.6 322.0 459.6 321.4 C458.6 320.8 458.2 317.5 457.2 315.5 C456.2 313.5 454.9 309.9 453.7 309.5 C452.5 309.1 451.1 311.4 450.1 313 C449.1 314.6 448.1 316.8 447.7 319 C447.3 321.2 447.1 323.6 447.7 326.2 C448.3 328.8 449.9 331.7 451.3 334.5 C452.7 337.3 454.0 339.8 456 342.8 C458.0 345.8 461.0 349.1 463.2 352.3 C465.4 355.5 467.5 359.3 469.1 361.8 C470.7 364.3 471.8 365.5 472.7 367.3 C473.6 369.1 473.9 372.5 474.5 372.5 C475.1 372.5 476.4 368.7 476.3 367.3 C476.2 365.9 474.5 366.3 473.9 364.2 C473.3 362.1 472.5 357.9 472.7 354.7 C472.9 351.5 473.7 348.4 475.1 345.2 C476.5 342.0 479.0 338.9 481 335.7 C483.0 332.5 484.8 329.2 487 326.2 C489.2 323.2 491.7 320.4 494.1 317.8 C496.5 315.2 498.6 313.1 501.2 310.7 C503.8 308.3 506.3 305.5 509.4 303.4 C512.5 301.3 516.4 300.1 519.9 298.1 C523.4 296.1 527.3 293.2 530.4 291.5 C533.5 289.8 535.6 288.5 538.2 287.6 C540.8 286.7 543.0 287.4 546.1 286.3 C549.2 285.2 553.1 283.2 556.6 281 C560.1 278.8 563.6 275.6 567.1 273.2 C570.6 270.8 574.1 268.6 577.6 266.6 C581.1 264.6 584.8 262.7 588.1 261.4 C591.4 260.1 593.9 259.3 597.3 258.7 C600.7 258.1 606.1 257.0 608.7 257.8 C611.3 258.6 614.2 261.8 613 263.5 C611.8 265.2 605.1 266.3 601.2 267.9 C597.3 269.5 592.7 271.2 589.4 273.2 C586.1 275.2 583.5 277.5 581.5 279.7 C579.5 281.9 576.9 284.3 577.1 286.3 C577.3 288.3 580.9 289.5 582.9 291.5 C584.9 293.5 587.9 295.2 589.4 298.1 C590.9 301.0 591.1 305.1 592 308.6 C592.9 312.1 593.7 315.0 594.7 319.1 C595.7 323.2 596.6 329.0 598.2 333.3 C599.8 337.6 601.9 341.2 604.1 345.2 C606.3 349.2 608.9 353.1 611.3 357.1 C613.7 361.1 616.0 365.6 618.4 369 C620.8 372.4 622.7 374.9 625.5 377.3 C628.3 379.7 631.5 381.9 635.1 383.2 C638.7 384.5 643.0 385.1 647 385.1 C651.0 385.1 655.4 383.7 658.8 383.2 C662.2 382.7 664.8 381.6 667.2 382 C669.6 382.4 671.6 383.9 673.1 385.6 C674.6 387.3 675.5 390.9 676 392"/>
<path d="M265.3 339 C264.4 339.4 262.1 340.5 260 341.25 C257.9 342.0 254.2 342.3 252.5 343.75 C250.8 345.2 251.2 348.2 250 350 C248.8 351.8 247.1 353.1 245 354.4 C242.9 355.6 240.0 356.5 237.5 357.5 C235.0 358.5 231.9 359.2 230 360.6 C228.1 362.0 227.9 363.8 226.25 365.6 C224.6 367.4 222.1 369.1 220 371.25 C217.9 373.4 215.5 376.2 213.75 378.75 C212.0 381.2 210.4 383.8 209.4 386.25 C208.4 388.8 207.5 391.6 207.5 393.75 C207.5 395.9 208.4 398.0 209.4 399.4 C210.4 400.8 211.8 401.6 213.75 401.9 C215.7 402.2 218.8 401.6 221.25 401.25 C223.8 400.9 226.0 400.1 228.75 400 C231.5 399.9 234.4 400.6 237.5 400.6 C240.6 400.6 244.6 400.4 247.5 399.75 C250.4 399.1 252.9 397.9 255 396.9 C257.1 395.9 258.5 395.2 260 393.75 C261.5 392.3 262.9 390.5 264 388 C265.1 385.5 266.9 380.9 266.5 378.5 C266.1 376.1 263.6 374.9 261.8 373.7 C260.0 372.5 257.1 372.3 255.8 371.3 C254.5 370.3 254.0 368.7 254 367.5 C254.0 366.3 254.5 365.5 255.8 364.2 C257.1 362.9 258.8 361.1 261.8 359.5 C264.8 357.9 270.2 356.9 273.7 354.7 C277.2 352.5 280.8 348.2 283 346.4 C285.2 344.6 286.1 344.4 286.7 344"/>
<path d="M124 543.8 C124.8 542.4 127.3 538.9 128.9 535.6 C130.5 532.3 132.4 527.9 133.8 524.1 C135.2 520.3 135.7 515.6 137.1 512.7 C138.5 509.9 139.8 508.3 142 507 C144.2 505.7 147.5 505.3 150.2 504.9 C152.9 504.5 156.3 503.5 158.3 504.5 C160.3 505.5 161.3 507.7 162.4 511 C163.5 514.3 163.9 519.7 164.9 524.1 C165.9 528.5 167.1 533.1 168.2 537.2 C169.3 541.3 170.3 546.2 171.4 548.7 C172.5 551.2 173.1 550.6 174.7 551.9 C176.3 553.2 178.5 556.6 180.8 556.5 C183.1 556.4 186.6 553.1 188.6 551 C190.6 548.9 191.2 546.6 192.7 543.8 C194.2 541.0 196.0 537.0 197.6 534 C199.2 531.0 200.9 528.5 202.5 525.8 C204.1 523.1 204.5 519.5 207.4 517.6 C210.3 515.7 218.9 515.9 219.7 514.5 C220.5 513.1 212.5 511.6 212.3 509.4 C212.2 507.2 216.6 503.9 218.8 501.2 C221.0 498.5 223.4 495.7 225.4 493 C227.4 490.3 229.9 487.3 231.1 484.9 C232.3 482.5 231.6 480.3 232.8 478.4 C234.0 476.5 236.2 475.0 238.5 473.4 C240.8 471.8 244.0 470.1 246.6 468.5 C249.2 466.9 250.6 465.6 253.8 464 C257.0 462.4 261.3 460.6 265.7 459.2 C270.1 457.8 275.2 456.5 280 455.7 C284.8 454.9 289.4 454.7 294.2 454.5 C298.9 454.3 303.9 454.3 308.5 454.5 C313.1 454.7 317.5 455.3 321.6 455.7 C325.7 456.1 329.1 456.3 332.9 456.9 C336.7 457.5 341.5 458.4 344.2 459.2 C346.9 460.0 347.3 460.6 348.9 461.6 C350.5 462.6 353.1 465.6 353.7 465.2 C354.3 464.8 353.3 461.6 352.5 459.2 C351.7 456.8 350.7 453.9 348.9 450.9 C347.1 447.9 344.2 444.6 341.8 441.4 C339.4 438.2 336.8 434.1 334.6 431.9 C332.4 429.7 330.0 430.5 328.4 428.4 C326.8 426.2 325.2 421.8 324.8 419 C324.4 416.2 325.1 414.2 326 411.8 C326.9 409.4 328.5 406.2 330 404.6 C331.5 403.0 332.8 403.3 334.8 402.3 C336.8 401.3 338.7 400.3 341.9 398.7 C345.1 397.1 349.8 394.7 353.8 392.7 C357.8 390.7 362.7 388.2 365.7 386.8 C368.7 385.4 370.4 385.2 371.6 384.4 C372.8 383.6 371.8 383.0 372.8 382 C373.8 381.0 375.2 380.5 377.6 378.5 C380.0 376.5 384.3 373.0 387.1 370.2 C389.9 367.4 392.2 364.2 394.2 361.8 C396.2 359.4 397.4 357.8 399 355.9 C400.6 354.0 400.9 350.7 403.6 350.5 C406.3 350.3 412.8 353.2 415 354.7 C417.2 356.2 416.6 357.5 416.8 359.5 C417.0 361.5 415.7 364.2 416.1 366.6 C416.5 369.0 417.7 371.5 419.2 373.7 C420.7 375.9 422.9 378.1 425.1 379.7 C427.3 381.3 429.9 383.0 432.3 383.2 C434.7 383.4 437.2 382.3 439.4 380.9 C441.6 379.5 443.3 376.1 445.3 374.9 C447.3 373.7 449.3 373.1 451.3 373.7 C453.3 374.3 455.6 376.5 457.2 378.5 C458.8 380.5 460.0 383.0 460.8 385.6 C461.6 388.2 460.8 391.5 462 393.9 C463.2 396.3 465.9 397.5 467.9 399.9 C469.9 402.3 472.6 405.4 473.9 408.2 C475.2 411.0 475.5 413.9 475.5 416.5 C475.5 419.1 475.2 421.9 473.9 423.7 C472.6 425.5 470.5 426.4 467.9 427.2 C465.3 428.0 462.0 428.6 458.4 428.4 C454.8 428.2 450.7 426.8 446.5 426 C442.3 425.2 437.1 424.5 433 423.7 C428.9 422.9 425.5 421.5 421.7 421.1 C417.9 420.7 413.4 421.7 410.4 421.3 C407.4 420.9 405.6 420.1 403.7 418.9 C401.8 417.7 399.6 415.9 399 414.1 C398.4 412.3 399.8 410.2 400.2 408.2 C400.6 406.2 401.5 403.5 401.3 402.3 C401.1 401.1 400.2 400.5 399 401.1 C397.8 401.7 395.8 403.8 394.2 405.8 C392.6 407.8 390.4 410.4 389.4 413 C388.4 415.6 387.9 418.5 388.3 421.3 C388.7 424.1 390.0 427.0 391.8 429.6 C393.6 432.2 396.6 434.7 399 436.7 C401.4 438.7 403.9 440.1 406.1 441.5 C408.3 442.9 410.1 444.0 412 445.1 C413.9 446.2 414.5 445.8 417.5 448 C420.5 450.2 426.6 454.4 429.8 458.5 C433.0 462.6 435.1 467.8 436.8 472.5 C438.6 477.2 440.3 481.8 440.3 486.5 C440.3 491.2 438.3 495.8 436.8 500.5 C435.3 505.2 433.2 509.2 431.5 514.5 C429.8 519.8 427.5 526.2 426.3 532 C425.1 537.8 424.7 544.3 424.5 549.5 C424.3 554.7 425.1 560.8 425.2 563"/>
<path d="M208.2 520 C208.2 522.5 208.3 530.0 208.3 535 C208.3 540.0 208.3 545.3 208.2 550 C208.1 554.7 207.9 560.8 207.8 563"/>
<path d="M222 520 C221.3 521.2 218.9 524.8 218 527.4 C217.1 530.0 216.5 532.9 216.4 535.6 C216.3 538.3 216.5 541.1 217.2 543.8 C217.9 546.5 219.1 549.7 220.5 552 C221.9 554.3 223.2 556.9 225.4 557.7 C227.6 558.5 230.9 557.3 233.6 556.8 C236.3 556.2 239.0 555.3 241.7 554.4 C244.4 553.5 247.8 551.8 249.9 551.1 C252.0 550.4 253.3 550.4 254 550.3"/>
<path d="M230 557.9 C231.6 557.3 236.3 556.0 239.5 554.4 C242.7 552.8 246.4 550.4 249 548.4 C251.6 546.4 253.4 543.9 255 542.5 C256.6 541.1 257.3 539.5 258.5 540.1 C259.7 540.7 260.9 543.8 262.1 546 C263.3 548.2 264.7 550.4 265.7 553.2 C266.7 556.0 267.6 561.4 268 563"/>
<path d="M510.7 54.5 C509.1 55.4 504.4 58.1 501.2 60 C498.0 61.9 494.5 63.9 491.7 65.9 C488.9 67.9 485.4 70.2 484.6 71.8 C483.8 73.4 485.4 74.2 487 75.4 C488.6 76.6 494.5 78.0 494.1 79 C493.7 80.0 488.2 80.5 484.6 81.3 C481.0 82.1 477.1 82.5 472.7 83.7 C468.3 84.9 462.8 87.3 458.4 88.5 C454.0 89.7 449.9 90.7 446.5 90.9 C443.1 91.1 440.0 91.1 438.2 89.7 C436.4 88.3 436.5 84.8 435.8 82.5 C435.1 80.2 435.4 77.9 434.2 75.9 C433.0 73.9 430.2 70.7 428.7 70.6 C427.2 70.5 425.9 73.8 425.1 75.4 C424.3 77.0 424.0 77.8 424 80.2 C424.0 82.6 425.5 86.5 425.1 89.7 C424.7 92.9 422.8 96.0 421.6 99.2 C420.4 102.4 418.8 105.5 418 108.7 C417.2 111.9 417.6 115.6 416.8 118.2 C416.0 120.8 415.0 124.0 413.2 124.2 C411.4 124.4 409.3 120.5 406.1 119.4 C402.9 118.3 398.2 117.9 394.2 117.7 C390.2 117.5 385.9 117.9 382.3 118.2 C378.7 118.5 374.9 118.9 372.8 119.4 C370.7 119.9 370.3 119.9 369.5 121 C368.7 122.1 368.2 124.1 368 126 C367.8 127.9 367.8 129.8 368 132.5 C368.2 135.2 370.0 138.8 369.2 142 C368.4 145.2 365.3 148.3 363.3 151.5 C361.3 154.7 358.9 157.4 357.3 161 C355.7 164.6 354.9 169.2 353.8 172.9 C352.7 176.6 351.4 180.2 350.5 183 C349.6 185.8 348.9 186.8 348.3 189.5 C347.7 192.2 347.7 195.8 347.1 199 C346.5 202.2 345.5 205.9 344.7 208.5 C343.9 211.1 343.7 212.6 342.3 214.5 C340.9 216.4 338.4 219.6 336.4 219.8 C334.3 220.0 331.8 217.4 330 215.7 C328.2 214.0 327.6 210.3 325.7 209.7 C323.8 209.1 320.9 210.7 318.5 212.1 C316.1 213.5 313.8 215.4 311.4 218 C309.0 220.6 306.1 224.6 304.3 227.6 C302.5 230.6 300.3 233.9 300.7 235.9 C301.1 237.9 304.4 238.7 306.6 239.5 C308.8 240.3 313.4 239.4 313.8 240.6 C314.2 241.8 311.0 244.8 309 246.6 C307.0 248.4 304.3 250.5 301.9 251.3 C299.5 252.1 297.6 250.9 294.8 251.3 C292.0 251.8 287.5 253.2 285 254 C282.5 254.8 281.0 255.7 280 256.25 C279.0 256.8 278.1 257.0 278.75 257.5 C279.4 258.0 282.1 258.8 283.75 259.4 C285.4 260.0 287.3 260.4 288.75 261.25 C290.2 262.1 291.8 263.3 292.5 264.4 C293.2 265.5 293.7 267.1 293.1 268.1 C292.5 269.1 290.7 270.0 288.75 270.6 C286.8 271.2 283.8 271.4 281.25 271.5 C278.8 271.6 276.0 271.5 273.75 271.25 C271.5 271.0 269.2 270.7 267.5 270 C265.8 269.3 265.0 267.8 263.75 267 C262.5 266.2 261.5 265.3 260 265 C258.5 264.7 256.5 264.7 255 265 C253.5 265.3 253.0 266.5 251.25 267 C249.5 267.5 246.9 267.9 244.7 268 C242.5 268.1 239.6 268.0 238 267.5 C236.4 267.0 235.7 266.0 235 265 C234.3 264.0 233.5 262.3 233.75 261.25 C234.0 260.2 234.8 259.3 236.25 258.75 C237.7 258.2 240.7 258.0 242.5 258.1 C244.3 258.2 246.1 258.7 246.9 259.4 C247.7 260.1 247.7 261.4 247.5 262.5 C247.3 263.6 246.2 265.4 246 266"/>
<path d="M559 54.5 C560.2 55.4 563.9 57.9 566.1 60 C568.3 62.1 570.4 64.4 572 67 C573.6 69.6 574.4 72.6 575.6 75.4 C576.8 78.2 577.9 81.2 579.2 83.7 C580.5 86.2 581.9 90.1 583.5 90.3 C585.1 90.5 587.8 87.1 588.7 85 C589.6 82.9 588.6 80.0 588.7 77.8 C588.8 75.6 588.6 73.3 589.4 71.8 C590.2 70.3 591.7 69.0 593.4 68.7 C595.1 68.4 597.2 69.3 599.4 70.2 C601.6 71.1 604.3 72.9 606.5 74.2 C608.7 75.5 610.5 77.4 612.5 77.8 C614.5 78.2 617.2 77.8 618.4 76.6 C619.6 75.4 618.8 72.6 619.6 70.6 C620.4 68.6 621.4 66.1 623.2 64.7 C625.0 63.3 627.7 62.7 630.3 62.3 C632.9 61.9 636.2 61.7 638.6 62.3 C641.0 62.9 642.8 64.5 644.6 65.9 C646.4 67.3 647.3 69.5 649.3 70.6 C651.3 71.7 654.3 72.5 656.5 72.5 C658.7 72.5 661.0 71.9 662.4 70.6 C663.8 69.3 663.4 66.3 664.8 64.7 C666.2 63.1 668.8 62.1 670.7 61.1 C672.6 60.1 675.1 59.4 676 59"/>
<path d="M195 327.5 C195.8 326.7 199.0 324.0 200 322.5 C201.0 321.0 200.2 319.8 201.25 318.75 C202.3 317.7 204.6 316.7 206.25 316.25 C207.9 315.8 209.8 315.8 211.25 316.25 C212.7 316.7 213.9 317.5 215 318.75 C216.1 320.0 217.1 322.0 218.1 323.75 C219.1 325.5 221.1 327.7 221.25 329.4 C221.4 331.1 219.9 332.5 218.75 333.75 C217.6 335.0 216.1 335.9 214.4 336.9 C212.7 337.9 210.7 339.0 208.75 340 C206.8 341.0 204.6 341.9 202.5 343.1 C200.4 344.4 197.9 346.1 196.25 347.5 C194.6 348.9 193.4 350.0 192.5 351.25 C191.6 352.5 190.4 353.9 190.6 355 C190.8 356.1 192.4 357.5 193.75 358.1 C195.1 358.7 197.6 358.1 198.75 358.75 C199.9 359.4 200.5 360.6 200.6 361.9 C200.7 363.1 200.1 364.7 199.4 366.25 C198.7 367.8 197.4 369.6 196.25 371.25 C195.1 372.9 193.8 374.4 192.5 376.25 C191.2 378.1 189.8 380.2 188.75 382.5 C187.7 384.8 186.9 387.5 186.25 390 C185.6 392.5 185.6 395.0 185 397.5 C184.4 400.0 183.5 402.7 182.5 405 C181.5 407.3 180.4 409.4 178.75 411.25 C177.1 413.1 174.6 414.1 172.75 416 C170.9 417.9 169.2 420.2 167.75 422.5 C166.3 424.8 165.5 427.3 164 430 C162.5 432.7 160.5 436.2 159 438.75 C157.5 441.2 156.3 443.1 155.25 445 C154.2 446.9 153.5 447.9 152.75 450 C152.0 452.1 151.6 455.0 151 457.5 C150.4 460.0 149.8 462.6 149 465 C148.2 467.4 148.0 469.5 146.5 472 C145.0 474.5 142.6 477.5 140 480 C137.4 482.5 133.7 485.2 131 487 C128.3 488.8 125.2 490.3 124 491"/>
<path d="M290.7 518.5 C293.0 518.0 297.0 515.6 297.8 513.2 C298.6 510.9 296.4 507.2 295.4 504.4 C294.4 501.5 293.0 498.9 291.8 496.1 C290.6 493.3 289.1 490.6 288.3 487.8 C287.5 485.0 288.1 481.6 287.1 479.4 C286.1 477.2 284.5 475.6 282.3 474.7 C280.1 473.8 276.4 473.8 274 474.2 C271.6 474.6 269.2 475.0 268 477.1 C266.8 479.2 266.7 483.4 266.9 486.6 C267.1 489.8 268.2 492.9 269.2 496.1 C270.2 499.3 271.4 503.0 272.8 505.6 C274.2 508.2 275.7 509.8 277.6 511.6 C279.5 513.4 282.0 515.1 284.2 516.3 C286.4 517.4 288.4 519.0 290.7 518.5Z"/>
<path d="M293 563 C292.6 561.0 291.2 554.4 290.6 550.8 C290.0 547.2 289.1 544.5 289.5 541.3 C289.9 538.1 291.7 534.7 293 531.8 C294.3 528.9 297.7 526.1 297.3 523.9 C296.9 521.7 290.7 518.8 290.7 518.5 C290.7 518.2 295.1 522.3 297.3 522.3 C299.5 522.3 301.6 520.3 303.7 518.7 C305.8 517.1 307.9 515.1 309.7 512.7 C311.5 510.3 313.0 507.0 314.4 504.4 C315.8 501.8 317.6 498.9 318 497.3 C318.4 495.7 315.6 495.7 316.8 494.9 C318.0 494.1 321.9 493.1 325.1 492.5 C328.3 491.9 334.0 492.5 335.8 491.3 C337.6 490.1 334.4 486.7 335.8 485.4 C337.2 484.1 341.2 483.7 344.2 483.7 C347.2 483.7 350.5 484.3 353.7 485.4 C356.9 486.5 360.0 488.0 363.2 490.2 C366.4 492.4 369.9 495.5 372.7 498.5 C375.5 501.5 377.8 504.4 379.8 508 C381.8 511.6 383.6 515.9 384.6 519.9 C385.6 523.9 386.2 527.8 385.8 531.8 C385.4 535.8 383.8 540.1 382.2 543.7 C380.6 547.3 378.3 550.4 376.3 553.2 C374.3 556.0 372.1 558.7 370.3 560.3 C368.5 561.9 366.4 562.5 365.6 563"/>
<path d="M306.1 563 C306.3 561.4 306.3 556.4 307.3 553.2 C308.3 550.0 309.8 546.5 312 543.7 C314.2 540.9 317.6 538.5 320.4 536.5 C323.2 534.5 326.3 533.6 328.7 531.8 C331.1 530.0 333.0 527.2 334.6 525.8 C336.2 524.4 337.0 523.5 338.2 523.5 C339.4 523.5 340.6 524.4 341.8 525.8 C343.0 527.2 344.3 529.6 345.3 531.8 C346.3 534.0 347.5 536.5 347.7 538.9 C347.9 541.3 347.9 544.2 346.5 546 C345.1 547.8 341.2 548.0 339.4 549.6 C337.6 551.2 336.6 553.4 335.8 555.6 C335.0 557.8 334.8 561.8 334.6 563"/>
<path d="M402.5 54.5 C403.3 55.5 406.5 58.5 407.5 60.25 C408.5 62.0 409.0 63.4 408.75 65.25 C408.5 67.1 407.7 69.8 406.25 71.5 C404.8 73.2 402.7 74.3 400 75.25 C397.3 76.2 393.5 76.7 390 77.1 C386.5 77.5 382.5 77.5 378.75 77.75 C375.0 78.0 371.0 78.2 367.5 78.4 C364.0 78.6 360.6 78.8 357.5 79 C354.4 79.2 350.8 78.9 348.75 79.6 C346.7 80.3 344.4 82.6 345 83.4 C345.6 84.2 349.6 84.3 352.5 84.6 C355.4 84.9 358.8 85.0 362.5 85.25 C366.2 85.5 371.2 85.6 375 85.9 C378.8 86.2 382.1 86.4 385 87.1 C387.9 87.8 390.9 89.1 392.5 90.25 C394.1 91.4 394.5 92.8 394.4 94 C394.3 95.2 393.3 96.9 391.9 97.75 C390.5 98.6 388.4 98.8 386.25 99 C384.1 99.2 381.0 99.0 378.75 99.25 C376.5 99.5 374.2 99.7 372.5 100.25 C370.8 100.8 369.8 101.7 368.75 102.75 C367.7 103.8 366.9 105.2 366.25 106.5 C365.6 107.8 365.4 109.2 365 110.25 C364.6 111.3 364.0 112.3 363.75 112.75"/>
<path d="M357.5 111.5 C357.1 111.0 356.2 109.0 355 108.4 C353.8 107.8 351.7 107.5 350 107.75 C348.3 108.0 346.6 108.8 345 110 C343.4 111.2 341.8 113.1 340.6 115 C339.4 116.9 338.5 119.8 338 121.5 C337.5 123.2 337.8 123.2 337.5 125 C337.2 126.8 336.4 130.2 336 132.5 C335.6 134.8 335.8 136.8 335 139 C334.2 141.2 332.2 143.8 331 146 C329.8 148.2 328.5 150.3 327.5 152.5 C326.5 154.7 325.6 156.9 325 159 C324.4 161.1 324.8 163.0 324 165 C323.2 167.0 321.3 169.2 320 171 C318.7 172.8 317.2 174.3 316 176 C314.8 177.7 313.4 179.5 312.5 181 C311.6 182.5 310.6 184.0 310.6 185 C310.6 186.0 311.4 186.9 312.5 187 C313.6 187.1 316.1 185.8 317.5 185.6 C318.9 185.4 319.9 185.4 320.6 186 C321.4 186.6 322.1 187.9 322 189 C321.9 190.1 321.0 191.3 320 192.5 C319.0 193.7 317.2 194.8 316 196 C314.8 197.2 313.3 199.0 312.5 200 C311.7 201.0 311.8 200.8 311 202 C310.2 203.2 308.9 206.0 307.5 207.5 C306.1 209.0 303.9 210.0 302.5 211.25 C301.1 212.5 299.2 214.0 299 215 C298.8 216.0 300.6 216.7 301.25 217.5 C301.9 218.3 303.2 219.0 303 220 C302.8 221.0 301.3 222.3 300 223.75 C298.7 225.2 296.7 226.9 295 228.75 C293.3 230.6 291.3 233.1 290 235 C288.7 236.9 287.2 238.5 287 240 C286.8 241.5 288.1 242.7 288.75 243.75 C289.4 244.8 290.6 246.0 291 246.5"/>
<path d="M200 269.4 C200.8 269.7 202.9 270.5 205 271.25 C207.1 272.0 210.0 273.0 212.5 273.75 C215.0 274.5 217.5 275.0 220 275.6 C222.5 276.2 225.0 276.8 227.5 277.5 C230.0 278.2 232.5 279.2 235 280 C237.5 280.8 240.3 281.6 242.5 282.5 C244.7 283.4 246.8 284.7 248.1 285.6 C249.3 286.5 250.1 287.3 250 288.1 C249.9 288.9 248.4 289.6 247.5 290.6 C246.6 291.7 245.2 293.1 244.4 294.4 C243.6 295.6 242.7 296.9 242.5 298.1 C242.3 299.4 243.9 301.0 243.1 301.9 C242.3 302.8 239.7 303.3 237.5 303.75 C235.3 304.2 232.5 304.2 230 304.4 C227.5 304.6 225.0 304.8 222.5 304.75 C220.0 304.8 217.5 304.6 215 304.4 C212.5 304.2 210.0 303.6 207.5 303.75 C205.0 303.9 202.4 304.1 200 305 C197.6 305.9 195.2 307.3 193 309 C190.8 310.7 188.7 313.0 187 315 C185.3 317.0 183.9 319.3 183 321 C182.1 322.7 181.5 323.7 181.5 325 C181.5 326.3 181.5 327.6 182.75 328.75 C184.0 329.9 186.5 331.0 189 332 C191.5 333.0 195.2 334.0 197.75 335 C200.3 336.0 204.2 337.0 204.4 338 C204.6 339.0 201.0 339.7 199 341 C197.0 342.3 195.0 344.4 192.5 345.6 C190.0 346.8 186.2 347.1 183.75 348 C181.2 348.9 179.0 349.9 177.5 351.25 C176.0 352.6 175.8 354.0 175 356.25 C174.2 358.5 173.3 362.1 172.5 365 C171.7 367.9 171.0 370.6 170 373.75 C169.0 376.9 167.5 380.8 166.25 383.75 C165.0 386.7 163.5 389.4 162.5 391.25 C161.5 393.1 161.0 392.7 160 395 C159.0 397.3 157.7 401.7 156.5 405 C155.3 408.3 153.8 411.7 152.75 415 C151.7 418.3 151.0 421.7 150.25 425 C149.5 428.3 148.8 431.7 148.4 435 C148.0 438.3 148.2 441.7 147.75 445 C147.3 448.3 146.8 451.8 146 455 C145.2 458.2 144.5 461.2 143 464 C141.5 466.8 139.2 469.7 137 472 C134.8 474.3 132.2 476.3 130 478 C127.8 479.7 125.0 481.3 124 482"/>
<path d="M204.4 285.6 C205.1 285.5 207.4 285.0 208.75 285.25 C210.1 285.5 212.0 285.9 212.5 286.9 C213.0 287.9 211.8 289.7 211.9 291.25 C212.0 292.8 213.3 295.0 213.1 296.25 C212.9 297.5 210.7 298.0 210.6 298.75 C210.5 299.5 210.9 300.1 212.5 300.6 C214.1 301.1 217.5 301.6 220 301.9 C222.5 302.2 225.3 302.4 227.5 302.25 C229.7 302.1 232.1 302.2 233.1 301.25 C234.1 300.2 232.8 297.6 233.5 296.25 C234.2 294.9 236.5 294.4 237.5 293.1 C238.5 291.9 239.6 289.9 239.4 288.75 C239.2 287.6 237.6 287.1 236.25 286.25 C234.9 285.4 233.1 284.6 231.25 283.75 C229.4 282.9 227.1 282.0 225 281.25 C222.9 280.5 220.8 279.9 218.75 279.4 C216.7 278.9 214.6 278.5 212.5 278.1 C210.4 277.7 208.3 277.2 206.25 276.9 C204.2 276.6 201.9 275.9 200 276.25 C198.1 276.6 196.3 277.7 195 279 C193.7 280.3 192.5 282.2 192 284 C191.5 285.8 192.5 288.2 192 290 C191.5 291.8 190.1 292.9 189 295 C187.9 297.1 186.3 300.0 185.25 302.5 C184.2 305.0 183.6 307.1 182.75 310 C181.9 312.9 181.2 316.3 180.25 320 C179.3 323.7 178.2 327.8 177 332 C175.8 336.2 174.3 340.3 173 345 C171.7 349.7 170.2 355.5 169 360 C167.8 364.5 167.2 367.8 166 372 C164.8 376.2 163.5 381.7 162 385 C160.5 388.3 157.8 390.8 157 392"/>
<path d="M200 269.4 C199.3 268.8 196.2 267.2 196 266 C195.8 264.8 197.5 263.2 199 262 C200.5 260.8 203.0 259.5 205 258.5 C207.0 257.5 209.5 257.0 211 256 C212.5 255.0 213.7 253.7 214 252.5 C214.3 251.3 212.8 250.1 213 249 C213.2 247.9 214.0 246.8 215 246 C216.0 245.2 217.3 244.8 219 244 C220.7 243.2 222.8 242.2 225 241.5 C227.2 240.8 230.0 240.3 232.5 240 C235.0 239.7 237.1 239.4 240 239.5 C242.9 239.6 246.3 239.9 250 240.5 C253.7 241.1 257.8 241.8 262 243 C266.2 244.2 272.8 247.2 275 248"/>
<path d="M252 252.7 C251.7 252.8 251.6 253.3 250 253.5 C248.4 253.7 245.0 253.6 242.5 253.75 C240.0 253.9 237.3 254.0 235 254.4 C232.7 254.8 230.4 255.5 228.75 256.25 C227.1 257.0 226.0 257.7 225 258.75 C224.0 259.8 223.1 261.2 223 262.5 C222.9 263.8 224.5 265.3 224.4 266.25 C224.3 267.2 221.8 267.1 222.25 268 C222.7 268.9 225.4 270.7 227.25 271.75 C229.1 272.8 231.2 273.4 233.5 274.25 C235.8 275.1 238.5 275.9 241 276.75 C243.5 277.6 246.2 278.4 248.5 279.25 C250.8 280.1 252.9 280.7 254.75 281.75 C256.6 282.8 258.5 284.1 259.75 285.5 C261.0 286.9 262.0 288.3 262.25 289.9 C262.5 291.5 261.5 293.3 261 294.9 C260.5 296.5 259.7 297.7 259.1 299.25 C258.5 300.8 257.4 302.8 257.25 304.25 C257.1 305.7 259.4 307.2 258.5 308 C257.6 308.8 254.5 309.0 252 309 C249.5 309.0 246.2 308.0 243.5 308 C240.8 308.0 237.5 308.7 236 309.25 C234.5 309.8 234.3 310.5 234.75 311.1 C235.2 311.7 237.2 312.8 238.5 313 C239.8 313.2 241.0 312.2 242.25 312.4 C243.5 312.6 244.5 313.5 246 314.25 C247.5 315.0 249.8 316.1 251 316.75 C252.2 317.4 253.9 317.8 253.5 318 C253.1 318.2 250.2 318.3 248.5 318 C246.8 317.7 244.8 316.1 243.5 316.1 C242.2 316.1 242.2 317.9 241 318 C239.8 318.1 237.7 317.3 236 316.75 C234.3 316.2 232.9 315.5 231 314.9 C229.1 314.3 227.0 313.5 224.75 313 C222.5 312.5 220.0 312.1 217.25 311.75 C214.5 311.4 211.2 311.2 208.5 311.1 C205.8 311.0 203.1 311.2 201 311.1 C198.9 311.0 197.8 310.2 196 310.5 C194.2 310.8 191.7 311.8 190 313 C188.3 314.2 186.7 317.2 186 318"/>
<path d="M575.6 339.2 C576.2 338.2 577.8 337.0 579.2 338 C580.6 339.0 582.3 342.2 583.9 345.2 C585.5 348.2 587.3 352.1 588.7 355.9 C590.1 359.7 591.7 364.4 592.3 367.8 C592.9 371.2 593.0 374.1 592.3 376.1 C591.6 378.1 589.0 380.5 588 379.7 C587.0 378.9 587.2 374.3 586.3 371.3 C585.4 368.3 584.1 365.2 582.7 361.8 C581.3 358.4 579.2 354.1 578 351.1 C576.8 348.1 576.0 346.0 575.6 344 C575.2 342.0 575.0 340.2 575.6 339.2Z"/>
<path d="M522.1 409.9 C523.1 409.8 528.4 410.0 531.6 410.6 C534.8 411.2 538.7 412.7 541.1 413.7 C543.5 414.7 545.4 415.6 545.9 416.5 C546.4 417.4 545.4 419.2 544.2 419.4 C543.0 419.6 540.7 418.8 538.8 417.7 C536.9 416.6 535.0 414.1 532.8 413 C530.6 411.9 527.5 411.8 525.7 411.3 C523.9 410.8 521.1 410.0 522.1 409.9Z"/>
<path d="M371.5 436.6 C372.2 435.8 374.3 434.7 376.3 435.5 C378.3 436.3 381.2 439.0 383.4 441.4 C385.6 443.8 387.7 446.7 389.3 449.7 C390.9 452.7 392.7 456.6 392.9 459.2 C393.1 461.8 391.5 464.8 390.5 465.2 C389.5 465.6 388.4 463.6 387 461.6 C385.6 459.6 384.0 456.1 382.2 453.3 C380.4 450.5 378.0 447.2 376.3 445 C374.6 442.8 373.0 441.6 372.2 440.2 C371.4 438.8 370.8 437.4 371.5 436.6Z"/>
<path d="M653 437 C654.7 436.8 656.8 437.8 658 439 C659.2 440.2 660.2 442.3 660 444 C659.8 445.7 658.5 448.0 657 449 C655.5 450.0 652.7 450.5 651 450 C649.3 449.5 647.5 447.7 647 446 C646.5 444.3 647.0 441.5 648 440 C649.0 438.5 651.3 437.2 653 437Z"/>
<path d="M463 563 C464.8 561.0 469.4 555.0 473.5 551.3 C477.6 547.6 482.8 543.1 487.5 540.8 C492.2 538.5 496.8 537.6 501.5 537.3 C506.2 537.0 510.8 537.8 515.5 539 C520.2 540.2 524.8 541.7 529.5 544.3 C534.2 546.9 539.4 551.7 543.5 554.8 C547.6 557.9 552.2 561.6 554 563"/>
<path d="M489.3 563 C491.3 561.9 497.7 558.0 501.5 556.5 C505.3 555.0 507.9 553.7 512 553.7 C516.1 553.7 521.6 555.0 526 556.5 C530.4 558.0 536.2 561.9 538.3 563"/>
<path d="M303.5 303.75 C304.7 302.6 307.2 301.8 309.4 301.4 C311.6 301.0 314.8 301.0 316.5 301.4 C318.2 301.8 319.4 302.4 319.6 303.75 C319.8 305.1 318.8 307.7 317.7 309.7 C316.6 311.7 314.3 314.0 313 315.6 C311.7 317.2 310.1 318.0 309.9 319.2 C309.7 320.4 312.1 321.4 311.8 322.8 C311.5 324.2 309.6 326.3 308.2 327.5 C306.8 328.7 304.9 329.9 303.5 329.9 C302.1 329.9 300.4 328.9 299.9 327.5 C299.4 326.1 300.1 323.8 300.4 321.6 C300.7 319.4 301.5 316.7 301.8 314.5 C302.1 312.3 302.0 310.3 302.3 308.5 C302.6 306.7 302.3 304.9 303.5 303.75Z"/>
<path d="M363 55.5 C361.5 56.5 357.0 59.6 354 61.5 C351.0 63.4 347.8 65.4 345 67 C342.2 68.6 339.5 69.9 337.5 71 C335.5 72.1 333.8 73.1 333 73.5"/>
<path d="M389 54.5 C388.8 55.9 388.5 61.0 388 63 C387.5 65.0 386.7 66.3 386 66.5 C385.3 66.7 384.8 64.1 384 64 C383.2 63.9 381.8 66.1 381 66 C380.2 65.9 379.7 63.5 379 63.5 C378.3 63.5 377.7 66.3 377 66 C376.3 65.7 376.2 62.0 375 61.5 C373.8 61.0 372.3 62.4 370 63 C367.7 63.6 364.2 64.0 361 65 C357.8 66.0 354.1 67.4 351 69 C347.9 70.6 345.6 72.4 342.5 74.5 C339.4 76.6 335.4 79.4 332.5 81.5 C329.6 83.6 327.1 85.3 325 87 C322.9 88.7 321.2 89.9 320 91.5 C318.8 93.1 317.8 94.4 317.5 96.5 C317.2 98.6 317.7 101.5 318 104 C318.3 106.5 319.1 109.0 319.4 111.5 C319.7 114.0 320.0 116.8 320 119 C320.0 121.2 319.6 123.2 319.4 125 C319.2 126.8 319.1 128.3 318.75 130 C318.4 131.7 317.8 132.5 317.5 135 C317.2 137.5 317.3 141.7 317 145 C316.7 148.3 316.3 152.1 315.6 155 C314.9 157.9 313.7 160.2 313 162.5 C312.3 164.8 311.8 166.7 311.25 168.75 C310.8 170.8 310.8 173.1 310 175 C309.2 176.9 307.3 178.3 306.25 180 C305.2 181.7 304.4 183.3 303.75 185 C303.1 186.7 302.6 188.2 302.5 190 C302.4 191.8 303.4 193.9 303 196 C302.6 198.1 301.2 200.6 300 202.5 C298.8 204.4 297.0 205.4 296 207.5 C295.0 209.6 294.6 212.5 294 215 C293.4 217.5 293.3 220.2 292.5 222.5 C291.7 224.8 290.2 227.1 289 229 C287.8 230.9 286.3 232.6 285 234 C283.7 235.4 281.7 236.9 281 237.5"/>
<path d="M297.5 94 C298.1 94.7 299.9 96.7 301 98 C302.1 99.3 303.1 100.8 304.4 102 C305.7 103.2 308.2 104.5 309 105"/>
<path d="M287 108.6 L294 104.6"/>
</g>
<g fill="none" stroke="#000" stroke-width="1.1" stroke-linejoin="round">
<path d="M124 144 L134 148.5 L142 148.5 L149 152 L159 152 L166.5 150.5 L161.5 146 L167 141 L170.5 135 L176 138 L182 142.5 L189 141 L193 135 L200 131.5 L207 129 L213 127.5 L218 125 L224 120 L231 118.5 L238 115.5 L246 117 L253 115 L260 118 L266 119.5 L277.5 125 L284 129 L287.5 134 L289.4 140 L290 146 L289 154 L283 155 L285.6 162 L294 164.4 L290 169 L288 175 L287.5 181 L287 187.5 L286 190 L285 200 L282.5 212.5 L277.5 219 L271 221 L261 222.5 L249 224 L240 223.75 L231 224.4 L222.5 227 L215 230 L207.5 234.4 L200 238 L193.75 240 L192 233.75 L198.75 232 L206.25 229.4 L213.75 227 L215.6 219.4 L208 217 L202 213.75 L202 205 L206.25 200 L210.6 196.25 L203.75 192 L195 190.6 L188.75 191.25 L181.25 195.6 L177.5 201.25 L178 208.75 L183 215 L187 220 L187 226.25 L184.4 230.6 L177.5 232.5 L170 235.6 L167 245 L165.6 250.6 L172.5 249.4 L176.25 246.25 L181.25 240 L188 240.6 L192.5 245 L190 248.75 L186.25 249.4 L180 250 L172.5 252.5 L166.25 256.25 L162.5 261.25 L159.6 272.5 L159 280 L166.5 273.75 L174 267.5 L180.25 261.25 L184.6 257.5"/>
<path d="M173.75 267 L178.75 262.5 L183.75 257.5"/>
<path d="M165.9 283.75 L156.5 290 L154 301.9 L144 303.75 L142.75 310 L144.6 317.5 L146.5 325 L147.5 329 L142.75 333.75 L144 337.5 L147 339 L147 360 L140.25 382.5 L135.25 401.25 L124 402"/>
<path d="M135.25 401.25 L136.5 405 L134 410 L134.6 420 L135.25 428.75 L139 432.5 L139.6 436.25 L136.5 442.5 L131.5 445 L129 453.75 L125.25 458.75 L124 460"/>
<path d="M280 109 L282.5 106.5 L287 101.5 L294 94 L297 91 L302.5 87 L311 82 L320 76.5 L329 70 L336 65 L342.5 61 L350 56 L352 54.5"/>
<path d="M295 91.5 L301 86 L310 80.5 L319 74.5 L328 68 L335 63 L342 59 L348 54.5"/>
<path d="M284.4 55 L282.5 66.5 L280 78 L280.6 86.5 L282 96.5 L289 97 L295 91.5"/>
<path d="M292 55 L292.5 63 L293 70 L297.5 78 L299.4 86.5"/>
<path d="M326 55 L325 59 L320 61.5 L314 63.5 L311 66.5 L310 70 L314 74 L316 76.5"/>
<path d="M328.75 55 L329.4 59 L331.25 56.5 L332.5 55"/>
<path d="M280 109 L284 113.4 L289 111 L292 114 L300 112.75 L300.6 119 L302 125 L302.5 131 L300 140 L297.5 147.5 L295.6 153 L289 154.4"/>
</g>
<path d="M309.5 154.9 L305.3 158.1 L301.9 161.3 L299.3 164.9 L296.7 169.5 L294.4 175.3 L292.2 181.1 L290.8 187.7 L290.1 193.7 L289.1 200.6 L286.6 209.6 L283.9 216.2 L280.4 221.3 L275 224.7" fill="none" stroke="#000" stroke-width="3.4" stroke-linejoin="round" stroke-linecap="round"/>
<rect x="422.2" y="65.1" width="12.9" height="11" fill="#fff"/><text class="lb" x="423.2" y="75.1" textLength="11.0" lengthAdjust="spacingAndGlyphs">18</text>
<rect x="577.0" y="84.8" width="12.9" height="11" fill="#fff"/><text class="lb" x="578.0" y="94.8" textLength="11.0" lengthAdjust="spacingAndGlyphs">18</text>
<rect x="350.1" y="112.0" width="22.8" height="11" fill="#fff"/><text class="lb" x="351.1" y="122.0" textLength="20.9" lengthAdjust="spacingAndGlyphs">17.5</text>
<rect x="505.4" y="154.1" width="22.8" height="11" fill="#fff"/><text class="lb" x="506.3" y="164.1" textLength="20.9" lengthAdjust="spacingAndGlyphs">18.5</text>
<rect x="329.9" y="214.3" width="12.9" height="11" fill="#fff"/><text class="lb" x="330.9" y="224.3" textLength="11.0" lengthAdjust="spacingAndGlyphs">18</text>
<rect x="381.5" y="226.2" width="22.8" height="11" fill="#fff"/><text class="lb" x="382.4" y="236.2" textLength="20.9" lengthAdjust="spacingAndGlyphs">18.5</text>
<rect x="498.3" y="232.0" width="22.8" height="11" fill="#fff"/><text class="lb" x="499.2" y="242.0" textLength="20.9" lengthAdjust="spacingAndGlyphs">18.5</text>
<rect x="597.3" y="252.3" width="22.8" height="11" fill="#fff"/><text class="lb" x="598.2" y="262.3" textLength="20.9" lengthAdjust="spacingAndGlyphs">18.5</text>
<rect x="249.6" y="231.5" width="22.8" height="11" fill="#fff"/><text class="lb" x="250.6" y="241.5" textLength="20.9" lengthAdjust="spacingAndGlyphs">11.5</text>
<rect x="267.1" y="231.5" width="12.9" height="11" fill="#fff"/><text class="lb" x="268.0" y="241.5" textLength="11.0" lengthAdjust="spacingAndGlyphs">16</text>
<rect x="231.6" y="242.2" width="22.8" height="11" fill="#fff"/><text class="lb" x="232.6" y="252.2" textLength="20.9" lengthAdjust="spacingAndGlyphs">16.5</text>
<rect x="252.1" y="242.2" width="12.9" height="11" fill="#fff"/><text class="lb" x="253.0" y="252.2" textLength="11.0" lengthAdjust="spacingAndGlyphs">17</text>
<rect x="272.1" y="245.0" width="22.8" height="11" fill="#fff"/><text class="lb" x="273.1" y="255.0" textLength="20.9" lengthAdjust="spacingAndGlyphs">17.5</text>
<rect x="238.2" y="262.5" width="12.9" height="11" fill="#fff"/><text class="lb" x="239.2" y="272.5" textLength="11.0" lengthAdjust="spacingAndGlyphs">18</text>
<rect x="275.4" y="273.3" width="22.8" height="11" fill="#fff"/><text class="lb" x="276.4" y="283.3" textLength="20.9" lengthAdjust="spacingAndGlyphs">18.5</text>
<rect x="192.1" y="284.5" width="12.9" height="11" fill="#fff"/><text class="lb" x="193.0" y="294.5" textLength="11.0" lengthAdjust="spacingAndGlyphs">17</text>
<rect x="152.6" y="291.1" width="22.8" height="11" fill="#fff"/><text class="lb" x="153.6" y="301.1" textLength="20.9" lengthAdjust="spacingAndGlyphs">13.5</text>
<rect x="188.6" y="322.0" width="12.9" height="11" fill="#fff"/><text class="lb" x="189.5" y="332.0" textLength="11.0" lengthAdjust="spacingAndGlyphs">18</text>
<rect x="265.2" y="333.1" width="22.8" height="11" fill="#fff"/><text class="lb" x="266.2" y="343.1" textLength="20.9" lengthAdjust="spacingAndGlyphs">18.5</text>
<rect x="392.2" y="345.0" width="22.8" height="11" fill="#fff"/><text class="lb" x="393.2" y="355.0" textLength="20.9" lengthAdjust="spacingAndGlyphs">18.5</text>
<rect x="463.1" y="367.0" width="22.8" height="11" fill="#fff"/><text class="lb" x="464.1" y="377.0" textLength="20.9" lengthAdjust="spacingAndGlyphs">18.5</text>
<rect x="134.6" y="385.0" width="22.8" height="11" fill="#fff"/><text class="lb" x="135.6" y="395.0" textLength="20.9" lengthAdjust="spacingAndGlyphs">15.5</text>
<rect x="135.6" y="414.5" width="12.9" height="11" fill="#fff"/><text class="lb" x="136.5" y="424.5" textLength="11.0" lengthAdjust="spacingAndGlyphs">16</text>
<rect x="410.3" y="415.6" width="22.8" height="11" fill="#fff"/><text class="lb" x="411.2" y="425.6" textLength="20.9" lengthAdjust="spacingAndGlyphs">18.5</text>
<rect x="176.3" y="431.8" width="22.8" height="11" fill="#fff"/><text class="lb" x="177.3" y="441.8" textLength="20.9" lengthAdjust="spacingAndGlyphs">18.5</text>
<rect x="130.6" y="446.5" width="22.8" height="11" fill="#fff"/><text class="lb" x="131.6" y="456.5" textLength="20.9" lengthAdjust="spacingAndGlyphs">16.5</text>
<rect x="321.5" y="451.4" width="22.8" height="11" fill="#fff"/><text class="lb" x="322.4" y="461.4" textLength="20.9" lengthAdjust="spacingAndGlyphs">18.5</text>
<rect x="122.0" y="468.0" width="12.9" height="11" fill="#fff"/><text class="lb" x="123.0" y="478.0" textLength="11.0" lengthAdjust="spacingAndGlyphs">17</text>
<rect x="208.3" y="509.0" width="22.8" height="11" fill="#fff"/><text class="lb" x="209.2" y="519.0" textLength="20.9" lengthAdjust="spacingAndGlyphs">18.5</text>
<rect x="284.2" y="513.0" width="12.9" height="11" fill="#fff"/><text class="lb" x="285.2" y="523.0" textLength="11.0" lengthAdjust="spacingAndGlyphs">18</text>
<rect x="169.4" y="551.0" width="22.8" height="11" fill="#fff"/><text class="lb" x="170.4" y="561.0" textLength="20.9" lengthAdjust="spacingAndGlyphs">18.5</text>
<g stroke="#c6c6c6" stroke-width="1.3" fill="none">
<path d="M194.75 562.7 V54.6" stroke-dasharray="1.8 4.725" stroke-dashoffset="0.12"/><path d="M265.50 562.7 V54.6" stroke-dasharray="1.8 4.725" stroke-dashoffset="0.12"/><path d="M336.25 562.7 V54.6" stroke-dasharray="1.8 4.725" stroke-dashoffset="0.12"/><path d="M407.00 562.7 V54.6" stroke-dasharray="1.8 4.725" stroke-dashoffset="0.12"/><path d="M477.75 562.7 V54.6" stroke-dasharray="1.8 4.725" stroke-dashoffset="0.12"/><path d="M548.50 562.7 V54.6" stroke-dasharray="1.8 4.725" stroke-dashoffset="0.12"/><path d="M619.25 562.7 V54.6" stroke-dasharray="1.8 4.725" stroke-dashoffset="0.12"/><path d="M123.9 529.30 H676" stroke-dasharray="1.8 4.6318" stroke-dashoffset="0.8"/><path d="M123.9 444.48 H676" stroke-dasharray="1.8 4.6318" stroke-dashoffset="0.8"/><path d="M123.9 359.66 H676" stroke-dasharray="1.8 4.6318" stroke-dashoffset="0.8"/><path d="M123.9 274.84 H676" stroke-dasharray="1.8 4.6318" stroke-dashoffset="0.8"/><path d="M123.9 190.02 H676" stroke-dasharray="1.8 4.6318" stroke-dashoffset="0.8"/><path d="M123.9 105.20 H676" stroke-dasharray="1.8 4.6318" stroke-dashoffset="0.8"/>
</g>
</g>
<text x="146.3" y="109.6" font-size="20.5" style="fill:#4a4a4a;stroke:#fff;stroke-width:.4px" textLength="12.7" lengthAdjust="spacingAndGlyphs">Z</text>
<text x="175.4" y="109.6" font-size="20.5" style="fill:#4a4a4a;stroke:#fff;stroke-width:.4px" textLength="15.7" lengthAdjust="spacingAndGlyphs">=</text>
<text x="205.9" y="109.6" font-size="20.5" style="fill:#4a4a4a;stroke:#fff;stroke-width:.4px" textLength="35.4" lengthAdjust="spacingAndGlyphs">2.5</text>
<text x="255.7" y="109.6" font-size="20.5" style="fill:#4a4a4a;stroke:#fff;stroke-width:.4px" textLength="19.7" lengthAdjust="spacingAndGlyphs">m</text>
<rect x="123.9" y="54.6" width="552.1" height="508.1" fill="none" stroke="#000" stroke-width="2.1"/>
<g stroke="#000" stroke-width="1.7"><path d="M124.00 562.7 v4.6"/><path d="M194.75 562.7 v4.6"/><path d="M265.50 562.7 v4.6"/><path d="M336.25 562.7 v4.6"/><path d="M407.00 562.7 v4.6"/><path d="M477.75 562.7 v4.6"/><path d="M548.50 562.7 v4.6"/><path d="M619.25 562.7 v4.6"/><path d="M123.9 529.30 h-4"/><path d="M123.9 444.48 h-4"/><path d="M123.9 359.66 h-4"/><path d="M123.9 274.84 h-4"/><path d="M123.9 190.02 h-4"/><path d="M123.9 105.20 h-4"/></g>
<text class="tk" x="124.20" y="578.5" text-anchor="middle">28.5</text><text class="tk" x="194.95" y="578.5" text-anchor="middle">29</text><text class="tk" x="265.70" y="578.5" text-anchor="middle">29.5</text><text class="tk" x="336.45" y="578.5" text-anchor="middle">30</text><text class="tk" x="407.20" y="578.5" text-anchor="middle">30.5</text><text class="tk" x="477.95" y="578.5" text-anchor="middle">31</text><text class="tk" x="548.70" y="578.5" text-anchor="middle">31.5</text><text class="tk" x="619.45" y="578.5" text-anchor="middle">32</text>
<text class="tk" x="117.6" y="533.70" text-anchor="end">43</text><text class="tk" x="117.6" y="448.88" text-anchor="end">43.5</text><text class="tk" x="117.6" y="364.06" text-anchor="end">44</text><text class="tk" x="117.6" y="279.24" text-anchor="end">44.5</text><text class="tk" x="117.6" y="194.42" text-anchor="end">45</text><text class="tk" x="117.6" y="109.60" text-anchor="end">45.5</text>
<text class="tt" x="74.5" y="42.6" textLength="79.5" lengthAdjust="spacingAndGlyphs">Salinity</text>
<text class="tt" x="168.0" y="42.6" textLength="65.0" lengthAdjust="spacingAndGlyphs">(ppt).</text>
<text class="tt" x="245.0" y="42.6" textLength="51.2" lengthAdjust="spacingAndGlyphs">Date</text>
<text class="tt" x="309.2" y="42.6" textLength="140.3" lengthAdjust="spacingAndGlyphs">2025.12.26.</text>
<text class="tt" x="459.6" y="42.6" textLength="53.6" lengthAdjust="spacingAndGlyphs">Time</text>
<text class="tt" x="527.0" y="42.6" textLength="142.8" lengthAdjust="spacingAndGlyphs">00(h):00(m)</text>
<text class="tt" x="682.0" y="42.6" textLength="42.0" lengthAdjust="spacingAndGlyphs">GMT</text>
<text class="ax" x="322.0" y="605.7" textLength="89.0" lengthAdjust="spacingAndGlyphs">Longitude</text>
<text class="ax" x="421.0" y="605.7" textLength="57.5" lengthAdjust="spacingAndGlyphs">(East)</text>
<text class="ax" transform="translate(82.8,383.5) rotate(-90)" textLength="72.5" lengthAdjust="spacingAndGlyphs">Latitude</text>
<text class="ax" transform="translate(82.8,300.5) rotate(-90)" textLength="67.5" lengthAdjust="spacingAndGlyphs">(North)</text>
<rect x="709" y="62.00" width="14" height="6.97" fill="#860000" shape-rendering="crispEdges"/><rect x="709" y="68.17" width="14" height="6.97" fill="#930000" shape-rendering="crispEdges"/><rect x="709" y="74.35" width="14" height="6.97" fill="#9f0000" shape-rendering="crispEdges"/><rect x="709" y="80.53" width="14" height="6.97" fill="#ac0000" shape-rendering="crispEdges"/><rect x="709" y="86.70" width="14" height="6.97" fill="#b90000" shape-rendering="crispEdges"/><rect x="709" y="92.88" width="14" height="6.97" fill="#c60000" shape-rendering="crispEdges"/><rect x="709" y="99.05" width="14" height="6.97" fill="#d20000" shape-rendering="crispEdges"/><rect x="709" y="105.22" width="14" height="6.97" fill="#df0000" shape-rendering="crispEdges"/><rect x="709" y="111.40" width="14" height="6.97" fill="#ec0000" shape-rendering="crispEdges"/><rect x="709" y="117.57" width="14" height="6.97" fill="#f90000" shape-rendering="crispEdges"/><rect x="709" y="123.75" width="14" height="6.97" fill="#ff0600" shape-rendering="crispEdges"/><rect x="709" y="129.93" width="14" height="6.97" fill="#ff1300" shape-rendering="crispEdges"/><rect x="709" y="136.10" width="14" height="6.97" fill="#ff2000" shape-rendering="crispEdges"/><rect x="709" y="142.27" width="14" height="6.97" fill="#ff2d00" shape-rendering="crispEdges"/><rect x="709" y="148.45" width="14" height="6.97" fill="#ff3900" shape-rendering="crispEdges"/><rect x="709" y="154.62" width="14" height="6.97" fill="#ff4600" shape-rendering="crispEdges"/><rect x="709" y="160.80" width="14" height="6.97" fill="#ff5300" shape-rendering="crispEdges"/><rect x="709" y="166.97" width="14" height="6.97" fill="#ff6000" shape-rendering="crispEdges"/><rect x="709" y="173.15" width="14" height="6.97" fill="#ff6c00" shape-rendering="crispEdges"/><rect x="709" y="179.32" width="14" height="6.97" fill="#ff7900" shape-rendering="crispEdges"/><rect x="709" y="185.50" width="14" height="6.97" fill="#ff8600" shape-rendering="crispEdges"/><rect x="709" y="191.67" width="14" height="6.97" fill="#ff9300" shape-rendering="crispEdges"/><rect x="709" y="197.85" width="14" height="6.97" fill="#ff9f00" shape-rendering="crispEdges"/><rect x="709" y="204.03" width="14" height="6.97" fill="#ffac00" shape-rendering="crispEdges"/><rect x="709" y="210.20" width="14" height="6.97" fill="#ffb900" shape-rendering="crispEdges"/><rect x="709" y="216.38" width="14" height="6.97" fill="#ffc600" shape-rendering="crispEdges"/><rect x="709" y="222.55" width="14" height="6.97" fill="#ffd200" shape-rendering="crispEdges"/><rect x="709" y="228.72" width="14" height="6.97" fill="#ffdf00" shape-rendering="crispEdges"/><rect x="709" y="234.90" width="14" height="6.97" fill="#ffec00" shape-rendering="crispEdges"/><rect x="709" y="241.07" width="14" height="6.97" fill="#fff900" shape-rendering="crispEdges"/><rect x="709" y="247.25" width="14" height="6.97" fill="#f9ff06" shape-rendering="crispEdges"/><rect x="709" y="253.42" width="14" height="6.97" fill="#ecff13" shape-rendering="crispEdges"/><rect x="709" y="259.60" width="14" height="6.97" fill="#dfff20" shape-rendering="crispEdges"/><rect x="709" y="265.77" width="14" height="6.97" fill="#d2ff2d" shape-rendering="crispEdges"/><rect x="709" y="271.95" width="14" height="6.97" fill="#c6ff39" shape-rendering="crispEdges"/><rect x="709" y="278.12" width="14" height="6.97" fill="#b9ff46" shape-rendering="crispEdges"/><rect x="709" y="284.30" width="14" height="6.97" fill="#acff53" shape-rendering="crispEdges"/><rect x="709" y="290.48" width="14" height="6.97" fill="#9fff60" shape-rendering="crispEdges"/><rect x="709" y="296.65" width="14" height="6.97" fill="#93ff6c" shape-rendering="crispEdges"/><rect x="709" y="302.82" width="14" height="6.97" fill="#86ff79" shape-rendering="crispEdges"/><rect x="709" y="309.00" width="14" height="6.97" fill="#79ff86" shape-rendering="crispEdges"/><rect x="709" y="315.17" width="14" height="6.97" fill="#6cff93" shape-rendering="crispEdges"/><rect x="709" y="321.35" width="14" height="6.97" fill="#60ff9f" shape-rendering="crispEdges"/><rect x="709" y="327.52" width="14" height="6.97" fill="#53ffac" shape-rendering="crispEdges"/><rect x="709" y="333.70" width="14" height="6.97" fill="#46ffb9" shape-rendering="crispEdges"/><rect x="709" y="339.88" width="14" height="6.97" fill="#39ffc6" shape-rendering="crispEdges"/><rect x="709" y="346.05" width="14" height="6.97" fill="#2dffd2" shape-rendering="crispEdges"/><rect x="709" y="352.22" width="14" height="6.97" fill="#20ffdf" shape-rendering="crispEdges"/><rect x="709" y="358.40" width="14" height="6.97" fill="#13ffec" shape-rendering="crispEdges"/><rect x="709" y="364.57" width="14" height="6.97" fill="#06fff9" shape-rendering="crispEdges"/><rect x="709" y="370.75" width="14" height="6.97" fill="#00f9ff" shape-rendering="crispEdges"/><rect x="709" y="376.93" width="14" height="6.97" fill="#00ecff" shape-rendering="crispEdges"/><rect x="709" y="383.10" width="14" height="6.97" fill="#00dfff" shape-rendering="crispEdges"/><rect x="709" y="389.27" width="14" height="6.97" fill="#00d2ff" shape-rendering="crispEdges"/><rect x="709" y="395.45" width="14" height="6.97" fill="#00c6ff" shape-rendering="crispEdges"/><rect x="709" y="401.62" width="14" height="6.97" fill="#00b9ff" shape-rendering="crispEdges"/><rect x="709" y="407.80" width="14" height="6.97" fill="#00acff" shape-rendering="crispEdges"/><rect x="709" y="413.97" width="14" height="6.97" fill="#009fff" shape-rendering="crispEdges"/><rect x="709" y="420.15" width="14" height="6.97" fill="#0093ff" shape-rendering="crispEdges"/><rect x="709" y="426.32" width="14" height="6.97" fill="#0086ff" shape-rendering="crispEdges"/><rect x="709" y="432.50" width="14" height="6.97" fill="#0079ff" shape-rendering="crispEdges"/><rect x="709" y="438.68" width="14" height="6.97" fill="#006cff" shape-rendering="crispEdges"/><rect x="709" y="444.85" width="14" height="6.97" fill="#0060ff" shape-rendering="crispEdges"/><rect x="709" y="451.02" width="14" height="6.97" fill="#0053ff" shape-rendering="crispEdges"/><rect x="709" y="457.20" width="14" height="6.97" fill="#0046ff" shape-rendering="crispEdges"/><rect x="709" y="463.38" width="14" height="6.97" fill="#0039ff" shape-rendering="crispEdges"/><rect x="709" y="469.55" width="14" height="6.97" fill="#002dff" shape-rendering="crispEdges"/><rect x="709" y="475.72" width="14" height="6.97" fill="#0020ff" shape-rendering="crispEdges"/><rect x="709" y="481.90" width="14" height="6.97" fill="#0013ff" shape-rendering="crispEdges"/><rect x="709" y="488.07" width="14" height="6.97" fill="#0006ff" shape-rendering="crispEdges"/><rect x="709" y="494.25" width="14" height="6.97" fill="#0000f9" shape-rendering="crispEdges"/><rect x="709" y="500.43" width="14" height="6.97" fill="#0000ec" shape-rendering="crispEdges"/><rect x="709" y="506.60" width="14" height="6.97" fill="#0000df" shape-rendering="crispEdges"/><rect x="709" y="512.77" width="14" height="6.97" fill="#0000d2" shape-rendering="crispEdges"/><rect x="709" y="518.95" width="14" height="6.97" fill="#0000c6" shape-rendering="crispEdges"/><rect x="709" y="525.12" width="14" height="6.97" fill="#0000b9" shape-rendering="crispEdges"/><rect x="709" y="531.30" width="14" height="6.97" fill="#0000ac" shape-rendering="crispEdges"/><rect x="709" y="537.47" width="14" height="6.97" fill="#00009f" shape-rendering="crispEdges"/><rect x="709" y="543.65" width="14" height="6.97" fill="#000093" shape-rendering="crispEdges"/><rect x="709" y="549.83" width="14" height="6.97" fill="#000086" shape-rendering="crispEdges"/>
<text class="cb" x="736" y="73.3">18.9</text><text class="cb" x="736" y="190.1">16.3</text><text class="cb" x="736" y="311.2">13.5</text><text class="cb" x="736" y="432.9">10.8</text><text class="cb" x="736" y="554.9">8.11</text>
</svg>
</body></html>
